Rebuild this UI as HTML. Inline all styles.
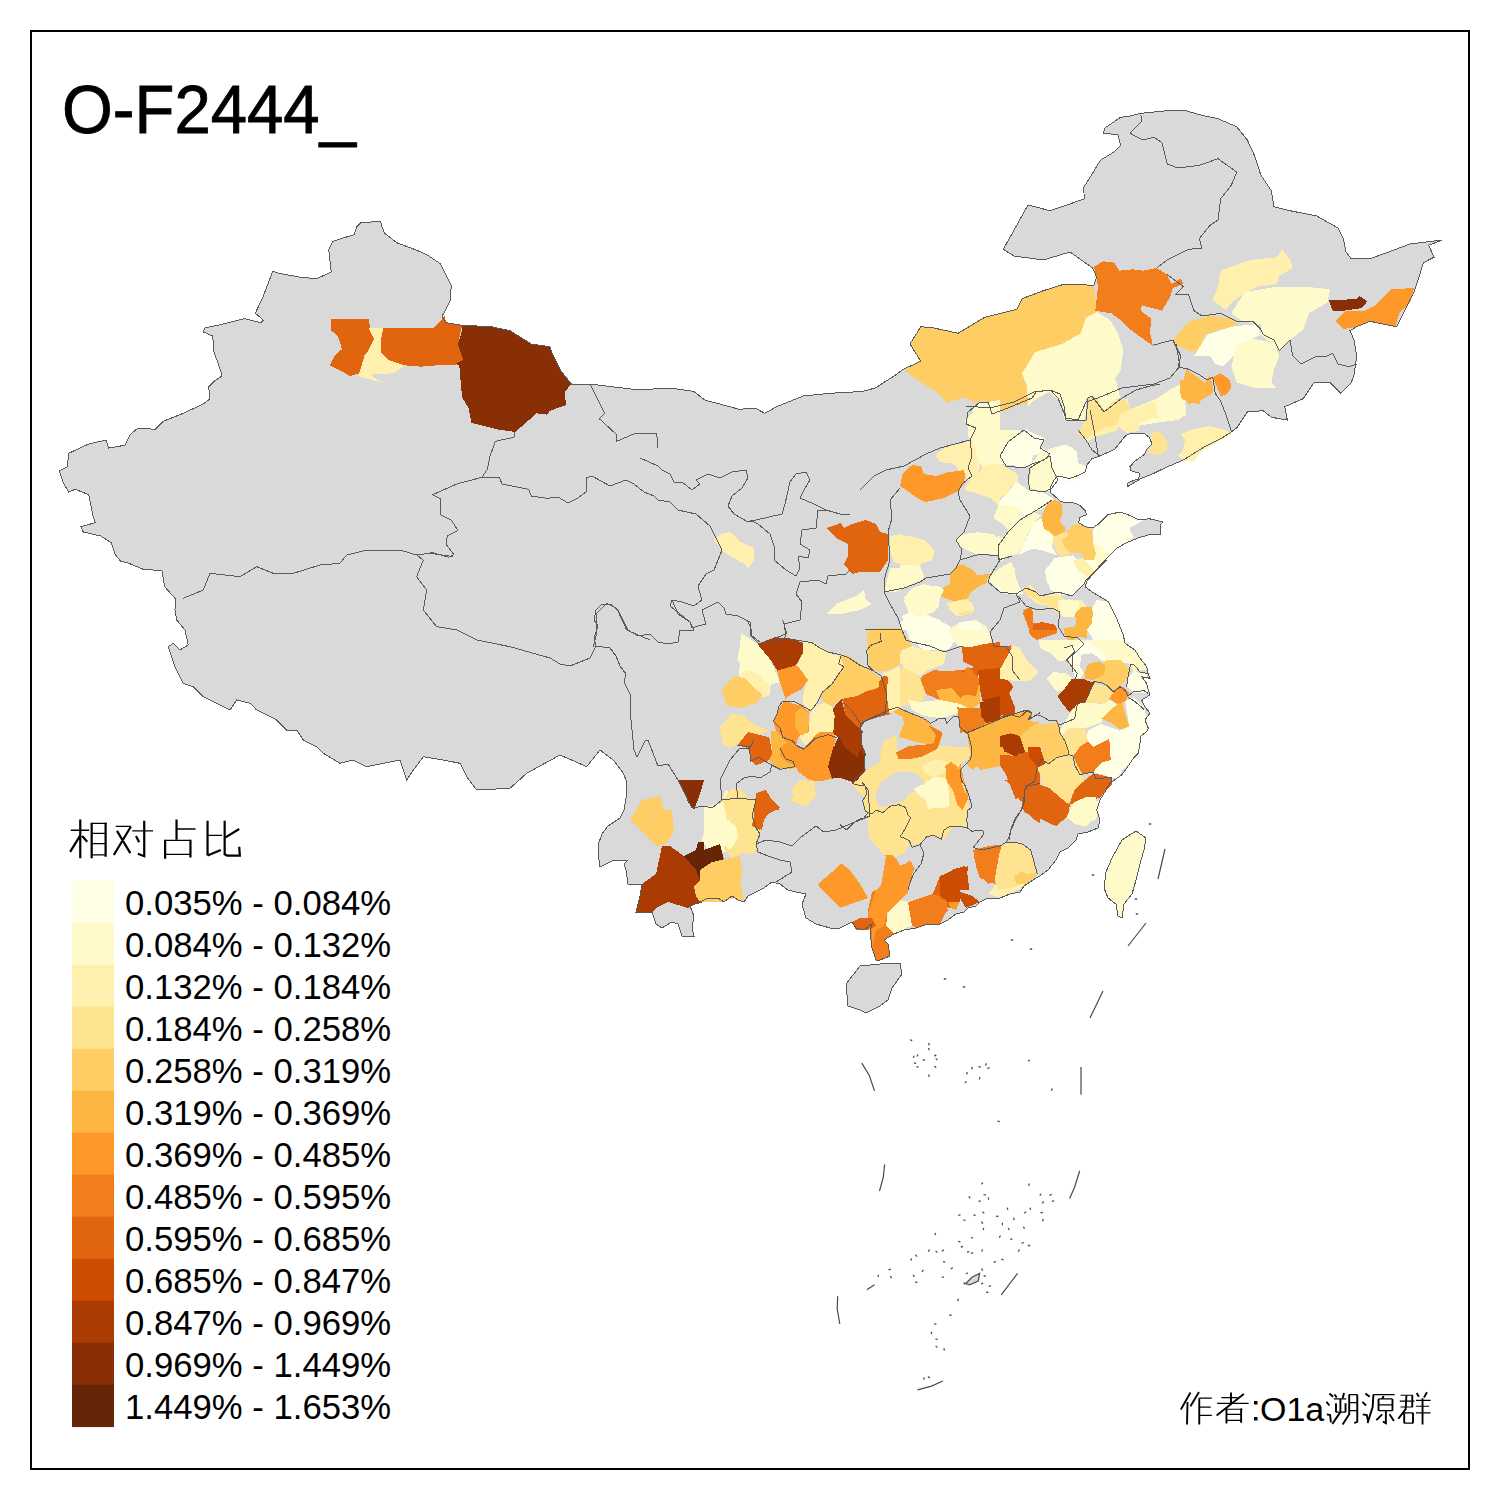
<!DOCTYPE html>
<html><head><meta charset="utf-8"><style>
html,body{margin:0;padding:0;background:#fff;width:1500px;height:1500px;overflow:hidden}
svg{position:absolute;left:0;top:0}
text{font-family:"Liberation Sans",sans-serif;fill:#000}
</style></head><body>
<svg width="1500" height="1500" viewBox="0 0 1500 1500">
<rect x="31" y="31" width="1438" height="1438" fill="none" stroke="#000" stroke-width="2"/>
<g shape-rendering="crispEdges"><polygon points="175.3,598.7 164.7,586.7 162.0,570.7 143.3,569.3 127.3,562.7 120.7,561.3 115.3,554.7 111.3,542.7 100.7,536.0 83.3,532.0 80.7,526.7 95.3,522.7 92.7,514.7 88.7,494.7 75.3,489.3 68.7,492.0 63.3,482.7 59.3,470.7 67.3,466.7 68.7,453.3 88.7,444.0 106.0,440.0 108.7,448.0 124.7,445.3 130.0,434.7 138.0,428.0 155.3,429.3 163.3,421.3 183.3,413.3 203.3,404.0 210.0,398.7 208.7,386.7 214.0,381.3 222.0,376.0 220.7,370.7 214.0,352.0 212.7,336.0 203.3,332.0 204.7,328.0 223.3,324.0 244.7,318.7 260.7,322.7 263.3,320.0 255.3,313.3 263.3,296.0 272.7,271.5 279.3,273.3 300.7,277.3 316.7,278.7 331.3,272.0 328.7,249.3 332.7,241.3 354.0,234.7 356.7,226.7 360.7,222.7 380.7,221.3 382.0,226.7 384.7,233.3 396.7,242.7 418.0,250.7 428.7,256.0 440.7,264.0 451.3,285.3 450.0,301.3 444.7,312.0 442.0,316.0 446.0,322.7 462.0,325.3 491.3,326.7 510.0,330.7 531.3,344.0 550.0,346.7 552.7,354.7 560.7,370.7 571.3,384.0 590.0,384.0 638.0,389.9 670.0,388.0 694.0,391.5 704.7,400.0 739.3,409.3 755.3,408.0 764.7,413.3 776.7,406.7 803.3,396.0 830.0,393.3 862.0,391.5 875.3,388.0 894.0,376.0 903.3,369.3 920.7,361.3 910.0,344.0 920.7,326.7 934.0,328.0 958.0,333.3 984.7,317.3 1016.7,309.3 1022.0,298.7 1043.3,290.7 1064.7,284.0 1094.0,285.3 1096.7,277.3 1092.7,268.0 1070.0,252.0 1043.3,260.0 1014.0,256.0 1003.3,249.3 1028.0,205.0 1050.0,210.7 1066.0,205.3 1084.7,198.7 1083.3,188.0 1090.0,177.3 1100.7,160.0 1114.0,152.0 1120.7,145.3 1118.0,134.7 1103.3,133.3 1104.7,128.0 1120.7,117.3 1130.0,116.0 1140.7,113.3 1167.3,110.7 1186.0,110.7 1199.3,114.7 1218.0,118.7 1236.7,126.7 1247.3,140.0 1255.3,157.3 1260.7,174.7 1271.3,190.7 1274.0,206.7 1290.0,210.7 1316.7,216.0 1338.0,228.0 1343.3,238.7 1346.0,252.0 1351.3,258.7 1370.0,258.7 1388.7,252.0 1410.0,244.0 1442.0,240.0 1428.7,245.3 1434.0,257.3 1423.3,262.7 1419.3,276.0 1414.0,292.0 1407.3,305.3 1396.7,326.7 1383.3,324.0 1370.0,321.3 1356.7,326.7 1350.0,330.7 1354.0,340.0 1356.7,356.0 1354.0,374.7 1351.3,382.7 1340.7,393.3 1330.0,382.7 1314.0,382.7 1303.3,398.7 1284.7,406.7 1287.3,420.0 1271.3,417.3 1263.3,410.7 1247.3,412.0 1236.7,428.0 1231.3,432.0 1220.7,438.7 1204.7,446.7 1183.3,460.0 1164.7,468.0 1154.0,473.3 1140.7,478.7 1127.3,486.7 1128.0,482.7 1138.7,478.7 1140.0,473.3 1130.7,470.7 1130.0,466.7 1134.7,461.3 1144.0,454.7 1146.7,449.3 1152.0,444.0 1149.3,437.3 1144.0,433.3 1129.3,434.0 1125.3,436.0 1120.0,442.7 1114.7,449.3 1100.0,456.0 1092.0,458.7 1086.7,465.3 1085.3,472.0 1080.0,474.7 1069.3,478.7 1064.0,477.3 1061.3,476.0 1056.0,477.3 1053.3,481.3 1050.7,486.7 1050.0,492.0 1056.0,497.3 1060.0,501.3 1066.7,502.7 1073.3,502.7 1080.0,505.3 1085.3,510.7 1086.7,514.7 1080.0,517.3 1078.7,522.7 1085.3,526.7 1092.0,528.0 1098.7,524.0 1108.0,514.7 1120.0,512.0 1128.0,514.7 1138.7,520.0 1149.3,518.7 1162.7,522.0 1160.0,525.3 1160.0,534.7 1149.3,534.7 1140.0,537.3 1126.7,542.7 1117.3,548.0 1109.3,556.0 1101.3,564.0 1093.3,573.3 1086.7,580.0 1106.7,560.0 1100.0,566.7 1093.3,573.3 1086.7,581.7 1085.0,586.7 1091.7,591.7 1108.3,601.7 1116.7,618.3 1123.3,635.0 1125.0,643.3 1135.0,650.0 1140.0,658.3 1146.7,666.7 1148.3,675.0 1150.0,678.3 1141.7,676.7 1146.7,683.3 1148.3,690.0 1150.0,695.0 1141.7,700.0 1145.0,706.7 1150.0,713.3 1145.0,720.0 1148.3,728.3 1146.7,731.7 1140.0,736.7 1140.0,743.3 1138.3,753.3 1133.3,758.3 1126.7,768.3 1121.7,775.0 1116.7,778.3 1110.0,783.3 1105.0,791.7 1100.0,800.0 1096.7,810.0 1100.0,820.0 1098.0,828.0 1088.0,832.0 1078.0,834.0 1076.0,840.0 1068.0,848.0 1060.0,852.0 1056.0,860.0 1048.0,870.0 1040.0,876.0 1036.0,878.0 1024.0,886.0 1020.0,892.0 1010.0,894.0 1000.0,898.0 988.0,898.0 980.0,902.0 976.0,906.0 968.0,908.0 964.0,912.0 956.0,914.0 948.0,920.0 940.0,924.0 928.0,924.0 916.0,928.0 904.0,930.0 894.0,934.0 884.0,940.0 888.0,944.0 890.0,956.0 880.0,960.0 876.0,960.0 872.0,948.0 870.0,932.0 872.0,924.0 864.0,930.0 856.0,928.0 852.0,922.0 840.0,928.0 830.0,928.0 816.0,924.0 806.0,918.0 802.0,904.0 806.0,894.0 796.0,892.0 788.0,890.0 780.0,884.0 772.0,882.0 764.0,888.0 756.0,892.0 748.0,896.0 744.0,902.0 738.0,900.0 732.0,896.0 724.0,902.0 718.0,898.0 708.0,898.0 700.0,902.0 690.0,906.0 694.0,916.0 692.0,928.0 694.0,936.0 682.0,936.0 678.0,924.0 672.0,922.0 662.0,928.0 656.0,924.0 652.0,912.0 636.0,912.0 640.0,896.0 642.0,884.0 628.0,884.0 626.0,870.0 624.0,864.0 628.0,860.0 614.0,860.0 600.0,867.0 599.0,860.0 598.0,845.0 602.0,834.0 608.0,826.0 620.0,818.0 624.0,810.0 626.0,798.0 626.0,780.0 623.3,773.3 613.3,760.0 600.0,750.0 586.7,766.7 560.0,755.0 526.7,773.3 510.0,788.3 476.7,790.0 466.7,776.7 460.0,763.3 443.3,760.0 423.3,756.7 413.3,770.0 406.7,780.0 400.0,760.0 383.3,763.3 366.7,766.7 353.3,760.0 340.0,763.3 323.3,753.3 316.7,746.7 303.3,740.0 296.7,730.0 286.7,730.0 276.7,720.0 256.7,710.0 250.0,703.3 236.7,700.0 230.0,710.0 203.3,696.7 193.3,686.7 183.3,683.3 175.0,666.7 168.3,646.7 173.3,643.3 180.0,650.0 188.3,645.0 185.0,630.0 176.7,620.0 175.0,610.0" fill="#D9D9D9" stroke="none"/>
<polygon points="846.0,984.0 860.0,966.0 880.0,964.0 900.0,963.0 902.0,974.0 892.0,988.0 888.0,1000.0 880.0,1006.0 866.0,1013.0 860.0,1010.0 848.0,1006.0" fill="#D9D9D9" stroke="none"/>
<polygon points="1104.0,888.0 1106.0,872.0 1112.0,858.0 1122.0,840.0 1128.0,836.0 1136.0,831.0 1146.0,838.0 1144.0,850.0 1140.0,864.0 1136.0,880.0 1132.0,894.0 1124.0,904.0 1122.0,918.0 1118.0,916.0 1116.0,904.0 1108.0,898.0" fill="#FFFACA" stroke="none"/>
<g stroke="none">
<polygon points="904.7,370.7 920.7,360.0 910.0,344.0 920.7,326.7 934.0,328.0 958.0,333.3 984.7,317.3 1016.7,309.3 1022.0,298.7 1043.3,290.7 1064.7,284.0 1094.0,285.3 1096.7,312.0 1086.0,317.3 1080.7,333.3 1062.0,344.0 1048.7,349.3 1035.3,352.0 1022.0,373.3 1027.3,386.7 1030.0,402.7 1016.7,405.3 1006.0,410.7 990.0,413.3 984.7,400.0 974.0,402.7 963.3,397.3 947.3,402.7 936.7,392.0 923.3,384.0" fill="#FECE65"/>
<polygon points="1022.0,373.3 1035.3,352.0 1062.0,344.0 1080.7,333.3 1086.0,317.3 1096.7,312.0 1110.0,320.0 1118.0,333.3 1123.3,349.3 1120.7,370.7 1112.7,381.3 1118.0,392.0 1104.7,400.0 1086.0,397.3 1080.7,408.0 1064.7,421.3 1062.0,402.7 1048.7,392.0 1030.0,402.7 1027.3,386.7" fill="#FFFACA"/>
<polygon points="331.3,318.7 368.7,318.7 370.0,328.0 374.0,338.7 370.0,349.3 364.7,354.7 359.3,373.3 350.0,376.0 340.7,370.7 330.0,365.3 335.3,354.7 342.0,349.3 338.0,336.0 331.3,330.7" fill="#E1640E"/>
<polygon points="368.7,328.0 383.3,328.0 380.7,341.3 380.7,352.0 388.7,360.0 404.7,365.3 394.0,373.3 370.0,374.7 382.0,382.7 358.0,376.0 364.7,357.3 374.0,338.7" fill="#FFF0AE"/>
<polygon points="383.3,328.0 434.0,328.0 444.7,316.0 446.0,322.7 462.0,325.3 458.0,344.0 463.3,360.0 455.3,365.3 438.0,365.3 420.7,366.7 404.7,365.3 388.7,360.0 380.7,352.0 380.7,341.3" fill="#E1640E"/>
<polygon points="462.0,325.3 491.3,326.7 510.0,330.7 531.3,344.0 550.0,346.7 552.7,354.7 560.7,370.7 571.3,384.0 564.7,392.0 566.0,405.3 550.0,410.7 547.3,414.7 536.7,413.3 515.3,432.0 496.7,429.3 471.3,422.7 468.7,408.0 462.0,397.3 459.3,365.3 455.3,364.0 463.3,360.0 458.0,344.0 462.0,330.7" fill="#882F05"/>
<polygon points="714.0,538.7 723.3,533.3 731.3,533.3 739.3,541.3 754.0,548.0 754.0,560.0 748.7,568.0 736.7,557.3 723.3,552.0" fill="#FFF0AE"/>
<polygon points="1094.0,266.7 1103.3,261.3 1114.0,262.7 1119.3,270.7 1132.7,269.3 1143.3,270.7 1156.7,268.0 1167.3,274.7 1171.3,284.0 1180.7,278.7 1183.3,284.0 1172.7,288.0 1170.0,297.3 1162.0,310.7 1142.0,305.3 1140.7,310.7 1151.3,318.7 1150.0,332.0 1152.7,345.3 1144.7,340.0 1130.0,329.3 1122.0,321.3 1111.3,313.3 1095.3,310.7 1098.0,286.7" fill="#F27E1B"/>
<polygon points="1220.7,270.7 1250.0,260.0 1276.7,257.3 1282.0,249.3 1290.0,260.0 1292.7,268.0 1279.3,276.0 1276.7,284.0 1258.0,286.7 1242.0,294.7 1231.3,302.7 1226.0,310.7 1212.7,300.0 1218.0,286.7" fill="#FFF0AE"/>
<polygon points="1231.3,313.3 1244.7,292.0 1276.7,286.7 1306.0,286.7 1330.0,289.3 1327.3,302.7 1308.7,313.3 1303.3,329.3 1290.0,340.0 1279.3,350.7 1271.3,342.7 1260.7,334.7 1260.7,324.0 1242.0,321.3" fill="#FFFACA"/>
<polygon points="1328.7,300.0 1340.7,300.0 1356.7,298.7 1359.3,296.0 1367.3,301.3 1362.0,308.0 1343.3,310.7 1332.7,310.7" fill="#882F05"/>
<polygon points="1335.3,321.3 1346.0,310.7 1364.7,310.7 1375.3,305.3 1391.3,289.3 1414.0,288.0 1410.0,302.7 1399.3,313.3 1395.3,326.7 1383.3,324.0 1370.0,321.3 1356.7,326.7 1343.3,329.3" fill="#FE9929"/>
<polygon points="1172.7,340.0 1188.7,321.3 1210.0,316.0 1231.3,318.7 1239.3,326.7 1220.7,329.3 1204.7,334.7 1199.3,350.7 1188.7,350.7 1178.0,345.3" fill="#FECE65"/>
<polygon points="1194.0,356.0 1207.3,334.7 1231.3,326.7 1258.0,324.0 1260.7,334.7 1250.0,340.0 1236.7,345.3 1234.0,356.0 1223.3,366.7 1215.3,364.0 1210.0,356.0" fill="#FFFFE5"/>
<polygon points="1234.0,356.0 1236.7,345.3 1252.7,338.7 1274.0,342.7 1279.3,356.0 1274.0,369.3 1271.3,382.7 1276.7,388.0 1255.3,388.0 1236.7,382.7 1231.3,366.7" fill="#FFFACA"/>
<polygon points="1180.7,393.3 1186.0,369.3 1194.0,374.7 1204.7,382.7 1210.0,374.7 1212.7,385.3 1212.7,393.3 1199.3,401.3 1188.7,404.0" fill="#FEB642"/>
<polygon points="1212.7,377.3 1220.7,373.3 1230.0,380.0 1231.3,388.0 1226.0,394.7 1220.7,396.0" fill="#FE9929"/>
<polygon points="1078.0,433.3 1087.3,417.3 1090.0,396.0 1100.7,406.7 1108.7,401.3 1127.3,398.7 1130.0,409.3 1122.0,420.0 1116.7,430.7 1098.0,436.0 1087.3,441.3" fill="#FFF0AE"/>
<polygon points="1122.0,420.0 1130.0,409.3 1156.7,398.7 1172.7,388.0 1183.3,382.7 1186.0,414.7 1178.0,420.0 1156.7,422.7 1140.7,425.3 1130.0,428.0" fill="#FFFACA"/>
<polygon points="1000.0,456.0 1006.7,452.0 1008.0,441.3 1017.3,436.0 1026.7,429.3 1034.7,436.0 1045.3,438.7 1040.0,445.3 1042.7,449.3 1037.3,454.7 1030.7,454.7 1032.0,462.7 1026.7,465.3 1021.3,468.0 1013.3,465.3 1001.3,464.0" fill="#FFFFE5"/>
<polygon points="1030.7,466.7 1033.3,460.0 1041.3,458.7 1045.3,450.7 1050.7,454.7 1048.0,460.0 1054.7,466.7 1057.3,473.3 1053.3,481.3 1049.3,486.7 1049.3,490.7 1040.0,490.7 1030.7,488.0 1028.0,482.7 1032.0,473.3" fill="#FFFACA"/>
<polygon points="1048.0,449.3 1053.3,448.0 1061.3,445.3 1070.7,446.7 1077.3,452.0 1076.0,462.7 1085.3,468.0 1080.0,474.7 1069.3,478.7 1064.0,477.3 1058.7,472.0 1053.3,465.3 1049.3,460.0" fill="#FFFFE5"/>
<polygon points="1026.7,380.0 1116.0,380.0 1120.0,397.3 1113.3,401.3 1104.0,410.7 1101.3,405.3 1096.0,397.3 1090.7,396.0 1085.3,398.7 1086.7,410.7 1084.0,421.3 1073.3,420.0 1065.3,421.3 1062.7,413.3 1064.0,404.0 1057.3,396.0 1052.0,388.0 1032.0,393.3 1032.0,402.7 1028.0,406.7" fill="#FFFACA"/>
<polygon points="1077.3,433.3 1085.3,424.0 1086.7,410.7 1090.7,396.0 1097.3,398.7 1104.0,410.7 1113.3,401.3 1125.3,398.7 1130.7,409.3 1120.0,414.7 1117.3,425.3 1104.0,428.0 1093.3,433.3 1086.7,438.7" fill="#FEE391"/>
<polygon points="1117.3,425.3 1120.0,414.7 1130.7,409.3 1140.0,406.7 1153.3,401.3 1157.3,406.7 1161.3,417.3 1150.7,418.7 1138.7,424.0 1138.7,430.7 1126.7,433.3" fill="#FFF0AE"/>
<polygon points="1180.0,380.0 1200.0,380.0 1200.0,404.0 1190.7,402.7 1181.3,398.7 1180.0,390.7" fill="#FEB642"/>
<polygon points="1156.0,402.7 1166.7,393.3 1176.0,386.7 1181.3,397.3 1186.7,406.7 1184.0,412.0 1173.3,414.7 1160.0,420.0 1157.3,412.0" fill="#FFFACA"/>
<polygon points="1150.7,434.7 1157.3,430.7 1164.0,436.0 1168.0,442.7 1166.7,450.7 1157.3,456.0 1148.0,452.0 1152.0,444.0" fill="#FEE391"/>
<polygon points="1178.0,456.0 1183.0,450.0 1185.0,440.0 1181.0,434.0 1194.0,429.0 1210.0,426.0 1225.0,430.0 1232.0,434.0 1200.0,452.0 1195.0,461.0 1185.0,461.0" fill="#FFF0AE"/>
<polygon points="1041.3,517.3 1046.7,505.3 1054.7,500.0 1061.3,502.7 1062.7,512.0 1060.0,517.3 1060.0,524.0 1065.3,526.7 1064.0,532.0 1054.7,529.3 1052.0,537.3 1048.0,534.7 1042.7,530.7" fill="#FEB642"/>
<polygon points="1061.3,540.0 1072.0,525.3 1080.0,524.0 1092.0,529.3 1093.3,544.0 1101.3,545.3 1096.0,553.3 1093.3,562.7 1085.3,561.3 1081.3,553.3 1070.7,553.3 1065.3,548.0" fill="#FECE65"/>
<polygon points="1050.7,537.3 1054.7,529.3 1064.0,532.0 1069.3,534.7 1061.3,540.0 1065.3,548.0 1070.7,553.3 1062.7,557.3 1057.3,553.3 1054.7,546.7" fill="#FEE391"/>
<polygon points="1093.3,529.3 1098.7,524.0 1108.0,514.7 1120.0,512.0 1128.0,514.7 1138.7,520.0 1144.0,520.0 1129.3,528.0 1133.3,537.3 1126.7,542.7 1117.3,548.0 1109.3,556.0 1101.3,545.3 1093.3,544.0" fill="#FFFFE5"/>
<polygon points="1093.3,544.0 1101.3,545.3 1109.3,556.0 1101.3,564.0 1093.3,573.3 1086.7,580.0 1074.7,580.0 1072.0,572.0 1080.0,564.0 1093.3,562.7 1096.0,553.3" fill="#FFFACA"/>
<polygon points="1045.0,570.0 1053.3,563.3 1066.7,560.0 1096.7,560.0 1093.3,573.3 1086.7,581.7 1076.7,590.0 1066.7,593.3 1058.3,593.3 1053.3,591.7 1046.7,581.7" fill="#FFFFE5"/>
<polygon points="988.3,578.3 1000.0,568.3 1011.7,563.3 1015.0,573.3 1018.3,585.0 1023.3,593.3 1016.7,595.0 1003.3,593.3 995.0,586.7" fill="#FFFFE5"/>
<polygon points="950.0,575.0 956.7,565.0 966.7,566.7 973.3,570.0 976.7,580.0 986.7,575.0 985.0,583.3 978.3,586.7 970.0,593.3 963.3,600.0 950.0,600.0" fill="#FEB642"/>
<polygon points="950.0,608.3 960.0,603.3 973.3,606.7 971.7,613.3 963.3,615.0 956.7,616.7 953.3,613.3" fill="#FFF0AE"/>
<polygon points="1021.7,588.3 1030.0,585.0 1036.7,591.7 1043.3,596.7 1056.7,593.3 1061.7,596.7 1066.7,603.3 1073.3,600.0 1081.7,600.0 1088.3,608.3 1076.7,613.3 1066.7,615.0 1058.3,611.7 1050.0,606.7 1036.7,603.3 1028.3,596.7" fill="#FFF0AE"/>
<polygon points="1023.3,610.0 1031.7,606.7 1033.3,615.0 1033.3,623.3 1041.7,623.3 1046.7,626.7 1056.7,628.3 1056.7,633.3 1046.7,636.7 1036.7,640.0 1030.0,635.0 1028.3,626.7 1025.0,618.3" fill="#F27E1B"/>
<polygon points="1063.3,628.3 1075.0,626.7 1080.0,610.0 1091.7,608.3 1091.7,623.3 1086.7,630.0 1086.7,638.3 1078.3,636.7 1070.0,641.7 1065.0,636.7" fill="#FEB642"/>
<polygon points="1091.7,608.3 1096.7,600.0 1108.3,601.7 1116.7,618.3 1123.3,635.0 1125.0,643.3 1135.0,650.0 1140.0,658.3 1146.7,666.7 1141.7,668.3 1130.0,663.3 1116.7,663.3 1108.3,661.7 1100.0,660.0 1095.0,646.7 1091.7,636.7 1086.7,630.0 1091.7,623.3" fill="#FFFFE5"/>
<polygon points="961.7,645.0 968.3,646.7 975.0,650.0 983.3,645.0 990.0,643.3 1000.0,646.7 1010.0,646.7 1010.0,663.3 1000.0,668.3 996.7,673.3 990.0,671.7 980.0,671.7 973.3,666.7 963.3,661.7" fill="#E1640E"/>
<polygon points="978.3,676.7 983.3,673.3 996.7,673.3 1010.0,683.3 1008.3,693.3 1015.0,713.3 1005.0,716.7 998.3,713.3 990.0,706.7 986.7,696.7" fill="#CC4C02"/>
<polygon points="981.7,705.0 988.3,701.7 996.7,706.7 1001.7,715.0 991.7,721.7 985.0,716.7" fill="#AA3C03"/>
<polygon points="958.3,716.7 966.7,710.0 980.0,710.0 988.3,720.0 993.3,723.3 973.3,728.3 960.0,733.3" fill="#F27E1B"/>
<polygon points="950.0,693.3 966.7,680.0 976.7,676.7 983.3,683.3 980.0,693.3 980.0,703.3 970.0,710.0 958.3,713.3 950.0,713.3" fill="#FEB642"/>
<polygon points="950.0,673.3 963.3,670.0 976.7,666.7 980.0,673.3 975.0,680.0 966.7,686.7 950.0,690.0" fill="#E1640E"/>
<polygon points="950.0,763.3 960.0,760.0 963.3,776.7 966.7,810.0 950.0,810.0" fill="#FE9929"/>
<polygon points="900.0,828.0 908.0,816.0 904.0,798.0 920.0,792.0 950.0,788.0 966.0,810.0 968.0,826.0 952.0,828.0 944.0,840.0 928.0,834.0 918.0,844.0 906.0,846.0 902.0,840.0" fill="#FEE391"/>
<polygon points="912.0,788.0 920.0,780.0 950.0,780.0 950.0,792.0 946.0,808.0 928.0,808.0 924.0,796.0" fill="#FFF0AE"/>
<polygon points="950.0,780.0 964.0,780.0 968.0,796.0 968.0,808.0 962.0,812.0 956.0,800.0 950.0,788.0" fill="#FE9929"/>
<polygon points="880.0,812.0 898.0,806.0 908.0,816.0 904.0,830.0 900.0,840.0 900.0,856.0 888.0,856.0 880.0,852.0" fill="#FEE391"/>
<polygon points="880.0,892.0 886.0,856.0 898.0,866.0 910.0,862.0 914.0,868.0 908.0,880.0 908.0,892.0 900.0,900.0 888.0,912.0 880.0,918.0" fill="#FE9929"/>
<polygon points="1004.0,780.0 1038.0,780.0 1020.0,796.0 1018.0,788.0" fill="#E1640E"/>
<polygon points="1024.0,788.0 1052.0,792.0 1070.0,804.0 1068.0,816.0 1056.0,826.0 1040.0,818.0 1024.0,812.0" fill="#E1640E"/>
<polygon points="1038.0,780.0 1084.0,780.0 1072.0,800.0 1052.0,792.0" fill="#FEE391"/>
<polygon points="1072.0,780.0 1112.0,780.0 1100.0,798.0 1072.0,802.0" fill="#E1640E"/>
<polygon points="1068.0,816.0 1084.0,804.0 1100.0,800.0 1096.0,820.0 1082.0,824.0 1070.0,820.0" fill="#FFFACA"/>
<polygon points="974.0,852.0 1000.0,846.0 1004.0,864.0 1000.0,878.0 988.0,884.0 980.0,876.0 976.0,864.0" fill="#F27E1B"/>
<polygon points="1000.0,846.0 1010.0,842.0 1028.0,848.0 1034.0,860.0 1038.0,874.0 1024.0,886.0 1010.0,888.0 1000.0,880.0 1004.0,864.0" fill="#FEE391"/>
<polygon points="1020.0,874.0 1028.0,860.0 1038.0,874.0 1024.0,886.0" fill="#FECE65"/>
<polygon points="988.0,894.0 1000.0,880.0 1020.0,872.0 1024.0,886.0 1010.0,894.0 1000.0,898.0" fill="#FFF0AE"/>
<polygon points="932.0,896.0 940.0,876.0 946.0,882.0 950.0,894.0 960.0,898.0 956.0,908.0 948.0,908.0 944.0,900.0" fill="#E1640E"/>
<polygon points="940.0,876.0 964.0,866.0 968.0,870.0 962.0,880.0 960.0,892.0 972.0,896.0 980.0,902.0 966.0,908.0 960.0,898.0 950.0,894.0 946.0,882.0" fill="#CC4C02"/>
<polygon points="948.0,900.0 956.0,896.0 960.0,900.0 956.0,910.0 950.0,908.0" fill="#FE9929"/>
<polygon points="906.0,912.0 916.0,904.0 924.0,900.0 936.0,898.0 948.0,900.0 946.0,912.0 940.0,924.0 928.0,924.0 916.0,928.0 910.0,924.0" fill="#F27E1B"/>
<polygon points="886.0,916.0 900.0,904.0 912.0,900.0 916.0,904.0 906.0,912.0 910.0,924.0 904.0,930.0 894.0,934.0 888.0,928.0" fill="#FFFACA"/>
<polygon points="880.0,918.0 888.0,916.0 888.0,928.0 894.0,934.0 884.0,940.0 888.0,944.0 890.0,956.0 880.0,960.0" fill="#F27E1B"/>
<polygon points="630.0,820.0 642.0,800.0 660.0,796.0 664.0,810.0 672.0,810.0 674.0,832.0 666.0,844.0 656.0,846.0 640.0,830.0" fill="#FECE65"/>
<polygon points="678.0,780.0 704.0,780.0 700.0,794.0 694.0,810.0 688.0,802.0 684.0,792.0" fill="#882F05"/>
<polygon points="704.0,812.0 720.0,804.0 726.0,790.0 732.0,796.0 728.0,820.0 732.0,840.0 736.0,848.0 724.0,852.0 710.0,852.0 702.0,840.0 706.0,824.0" fill="#FFFACA"/>
<polygon points="722.0,800.0 732.0,788.0 740.0,798.0 756.0,798.0 760.0,830.0 756.0,852.0 750.0,854.0 740.0,852.0 736.0,848.0 732.0,840.0 728.0,820.0" fill="#FEE391"/>
<polygon points="752.0,824.0 760.0,800.0 760.0,792.0 766.0,790.0 772.0,800.0 780.0,808.0 768.0,814.0 764.0,820.0 762.0,830.0" fill="#E1640E"/>
<polygon points="636.0,912.0 640.0,896.0 642.0,884.0 656.0,874.0 662.0,846.0 670.0,846.0 684.0,856.0 696.0,870.0 700.0,880.0 694.0,886.0 696.0,896.0 704.0,902.0 690.0,906.0 688.0,908.0 668.0,902.0 656.0,908.0 652.0,912.0" fill="#AA3C03"/>
<polygon points="684.0,856.0 696.0,850.0 698.0,842.0 704.0,842.0 704.0,850.0 720.0,844.0 724.0,860.0 720.0,860.0 708.0,864.0 704.0,876.0 700.0,880.0 696.0,870.0" fill="#662506"/>
<polygon points="694.0,886.0 700.0,880.0 704.0,876.0 708.0,864.0 720.0,860.0 732.0,858.0 740.0,856.0 742.0,872.0 740.0,884.0 744.0,900.0 738.0,900.0 732.0,896.0 724.0,902.0 718.0,898.0 708.0,898.0 700.0,902.0 696.0,896.0" fill="#FECE65"/>
<polygon points="818.0,886.0 828.0,876.0 840.0,864.0 852.0,880.0 868.0,898.0 856.0,902.0 840.0,908.0 830.0,898.0" fill="#FE9929"/>
<polygon points="868.0,910.0 872.0,892.0 880.0,888.0 880.0,960.0 876.0,960.0 872.0,948.0 870.0,932.0 872.0,924.0 868.0,920.0" fill="#F27E1B"/>
<polygon points="852.0,922.0 860.0,918.0 872.0,918.0 872.0,924.0 864.0,930.0 856.0,928.0" fill="#E1640E"/>
<polygon points="790.0,800.0 800.0,788.0 814.0,780.0 816.0,796.0 806.0,806.0 798.0,804.0" fill="#FEE391"/>
<polygon points="864.0,780.0 880.0,780.0 880.0,846.0 870.0,840.0 866.0,810.0 868.0,800.0 852.0,786.0" fill="#FEE391"/>
<polygon points="900.0,486.0 906.0,474.0 912.0,465.0 920.0,466.0 924.0,474.0 936.0,476.0 948.0,472.0 964.0,472.0 964.0,484.0 956.0,492.0 944.0,498.0 926.0,502.0 916.0,494.0 906.0,488.0" fill="#FE9929"/>
<polygon points="826.0,528.0 838.0,524.0 840.0,522.0 844.0,528.0 852.0,524.0 866.0,520.0 876.0,524.0 880.0,532.0 888.0,534.0 888.0,560.0 880.0,572.0 860.0,572.0 852.0,574.0 844.0,564.0 848.0,556.0 848.0,544.0 836.0,538.0" fill="#E1640E"/>
<polygon points="890.0,536.0 900.0,534.0 912.0,538.0 924.0,544.0 934.0,552.0 924.0,560.0 920.0,566.0 910.0,568.0 894.0,562.0 890.0,552.0" fill="#FFF0AE"/>
<polygon points="884.0,592.0 890.0,568.0 910.0,568.0 920.0,566.0 924.0,576.0 922.0,580.0 908.0,586.0 896.0,592.0" fill="#FFFACA"/>
<polygon points="826.0,614.0 836.0,604.0 856.0,596.0 864.0,590.0 866.0,600.0 872.0,604.0 860.0,610.0 840.0,614.0" fill="#FFFACA"/>
<polygon points="714.0,540.0 720.0,534.0 730.0,532.0 740.0,542.0 754.0,548.0 750.0,566.0 740.0,562.0 734.0,558.0 724.0,552.0" fill="#FFF0AE"/>
<polygon points="936.0,454.0 948.0,446.0 960.0,444.0 974.0,440.0 980.0,448.0 976.0,456.0 970.0,462.0 968.0,470.0 960.0,472.0 954.0,464.0 940.0,462.0" fill="#FFF0AE"/>
<polygon points="964.0,420.0 972.0,414.0 976.0,404.0 988.0,402.0 1000.0,400.0 1000.0,464.0 990.0,466.0 980.0,460.0 978.0,448.0 968.0,436.0 968.0,426.0" fill="#FFFACA"/>
<polygon points="966.0,484.0 978.0,474.0 990.0,464.0 1000.0,464.0 1000.0,508.0 992.0,500.0 984.0,492.0" fill="#FFF0AE"/>
<polygon points="956.0,540.0 964.0,534.0 980.0,532.0 992.0,538.0 1000.0,536.0 1000.0,552.0 990.0,552.0 970.0,550.0" fill="#FFFACA"/>
<polygon points="940.0,596.0 950.0,584.0 956.0,572.0 962.0,564.0 974.0,572.0 980.0,578.0 990.0,574.0 986.0,584.0 974.0,586.0 968.0,598.0 956.0,602.0" fill="#FEB642"/>
<polygon points="946.0,602.0 956.0,602.0 968.0,598.0 974.0,612.0 962.0,616.0 952.0,612.0" fill="#FEE391"/>
<polygon points="904.0,598.0 912.0,588.0 924.0,584.0 940.0,588.0 940.0,596.0 936.0,604.0 926.0,614.0 912.0,612.0" fill="#FFFACA"/>
<polygon points="902.0,616.0 910.0,612.0 926.0,614.0 938.0,620.0 950.0,626.0 956.0,640.0 948.0,650.0 924.0,650.0 910.0,640.0" fill="#FFFFE5"/>
<polygon points="948.0,630.0 960.0,622.0 976.0,620.0 986.0,626.0 990.0,634.0 992.0,644.0 980.0,648.0 958.0,646.0" fill="#FFFACA"/>
<polygon points="988.0,580.0 996.0,572.0 1000.0,568.0 1000.0,592.0 992.0,584.0" fill="#FFFFE5"/>
<polygon points="962.0,648.0 976.0,646.0 984.0,644.0 1000.0,642.0 1000.0,672.0 988.0,668.0 978.0,666.0 966.0,658.0" fill="#E1640E"/>
<polygon points="978.0,672.0 988.0,668.0 1000.0,672.0 1000.0,700.0 988.0,692.0 980.0,684.0" fill="#CC4C02"/>
<polygon points="866.0,630.0 876.0,628.0 900.0,628.0 904.0,634.0 912.0,646.0 892.0,658.0 884.0,664.0 880.0,670.0 870.0,664.0 868.0,648.0 876.0,640.0" fill="#FECE65"/>
<polygon points="902.0,650.0 912.0,646.0 924.0,650.0 946.0,652.0 944.0,664.0 928.0,670.0 920.0,676.0 908.0,672.0 898.0,660.0" fill="#FFF0AE"/>
<polygon points="922.0,676.0 934.0,670.0 948.0,672.0 962.0,676.0 968.0,666.0 980.0,680.0 976.0,696.0 960.0,694.0 944.0,692.0 930.0,690.0 924.0,684.0" fill="#F27E1B"/>
<polygon points="940.0,688.0 952.0,684.0 960.0,692.0 952.0,700.0 938.0,700.0" fill="#FECE65"/>
<polygon points="888.0,674.0 902.0,668.0 914.0,672.0 922.0,684.0 924.0,700.0 888.0,700.0" fill="#FEE391"/>
<polygon points="840.0,700.0 856.0,692.0 872.0,688.0 884.0,676.0 888.0,676.0 888.0,700.0" fill="#E1640E"/>
<polygon points="752.0,826.0 754.0,810.0 760.0,794.0 766.0,792.0 776.0,806.0 780.0,808.0 766.0,812.0 760.0,816.0 760.0,830.0" fill="#E1640E"/>
<polygon points="724.0,798.0 738.0,788.0 748.0,798.0 756.0,806.0 752.0,826.0 760.0,830.0 756.0,850.0 740.0,854.0 732.0,858.0 724.0,850.0" fill="#FEE391"/>
<polygon points="704.0,810.0 720.0,804.0 726.0,798.0 730.0,822.0 736.0,826.0 738.0,838.0 730.0,850.0 720.0,842.0 708.0,842.0 704.0,830.0" fill="#FFFACA"/>
<polygon points="700.0,870.0 712.0,862.0 732.0,858.0 740.0,862.0 742.0,896.0 734.0,898.0 720.0,902.0 700.0,902.0" fill="#FECE65"/>
<polygon points="966.0,650.0 1000.0,650.0 1000.0,674.0 980.0,670.0" fill="#E1640E"/>
<polygon points="920.0,678.0 940.0,672.0 960.0,670.0 968.0,678.0 972.0,690.0 960.0,698.0 940.0,700.0 926.0,694.0" fill="#F27E1B"/>
<polygon points="936.0,690.0 952.0,688.0 960.0,698.0 950.0,702.0 940.0,700.0" fill="#FEB642"/>
<polygon points="884.0,678.0 900.0,672.0 920.0,678.0 926.0,694.0 920.0,704.0 900.0,706.0 892.0,710.0 884.0,700.0" fill="#FEE391"/>
<polygon points="908.0,700.0 920.0,702.0 940.0,700.0 960.0,704.0 968.0,708.0 950.0,716.0 940.0,718.0 924.0,716.0 912.0,710.0" fill="#FFFACA"/>
<polygon points="978.0,670.0 1000.0,668.0 1000.0,718.0 984.0,708.0 980.0,690.0" fill="#CC4C02"/>
<polygon points="984.0,700.0 1000.0,696.0 1000.0,718.0 988.0,714.0" fill="#AA3C03"/>
<polygon points="960.0,712.0 968.0,708.0 984.0,708.0 992.0,720.0 984.0,726.0 970.0,734.0 962.0,728.0" fill="#F27E1B"/>
<polygon points="968.0,742.0 980.0,726.0 1000.0,718.0 1000.0,766.0 980.0,770.0 972.0,762.0 970.0,750.0" fill="#FEB642"/>
<polygon points="818.0,884.0 832.0,872.0 842.0,864.0 850.0,870.0 860.0,884.0 868.0,898.0 854.0,900.0 840.0,908.0 832.0,900.0 824.0,892.0" fill="#FE9929"/>
<polygon points="868.0,914.0 876.0,890.0 890.0,876.0 888.0,856.0 896.0,858.0 902.0,870.0 912.0,862.0 912.0,880.0 900.0,896.0 888.0,910.0 884.0,926.0 876.0,930.0 872.0,950.0 872.0,926.0" fill="#FE9929"/>
<polygon points="852.0,922.0 860.0,918.0 872.0,918.0 876.0,926.0 868.0,930.0 856.0,930.0" fill="#E1640E"/>
<polygon points="908.0,902.0 920.0,898.0 932.0,894.0 940.0,896.0 948.0,910.0 940.0,918.0 928.0,922.0 912.0,926.0" fill="#F27E1B"/>
<polygon points="888.0,912.0 900.0,900.0 908.0,902.0 912.0,926.0 896.0,930.0 886.0,926.0" fill="#FFFACA"/>
<polygon points="940.0,876.0 968.0,866.0 966.0,880.0 960.0,890.0 960.0,902.0 948.0,902.0 940.0,896.0" fill="#CC4C02"/>
<polygon points="974.0,850.0 1000.0,846.0 1000.0,886.0 980.0,878.0 976.0,866.0" fill="#F27E1B"/>
<polygon points="900.0,486.0 902.7,474.0 910.7,466.0 921.3,466.0 924.0,474.0 934.7,478.0 946.7,472.7 964.0,470.0 965.3,478.0 960.0,487.3 949.3,495.3 934.7,499.3 925.3,502.0 917.3,498.0 908.0,491.3" fill="#FE9929"/>
<polygon points="936.0,456.7 941.3,450.0 953.3,446.0 969.3,440.7 974.7,446.0 980.0,464.7 978.7,475.3 969.3,480.7 966.7,478.0 964.0,470.0 956.0,464.7 953.3,459.3 940.0,460.7" fill="#FFF0AE"/>
<polygon points="969.3,430.0 1020.0,430.0 1021.3,438.0 1009.3,442.0 1001.3,454.0 1001.3,464.7 993.3,463.3 982.7,466.0 978.7,462.0 974.7,446.0" fill="#FFFACA"/>
<polygon points="964.0,488.7 969.3,480.7 978.7,475.3 982.7,466.0 993.3,463.3 1001.3,464.7 1017.3,474.0 1018.7,483.3 1012.0,484.7 1006.7,494.0 998.7,498.0 993.3,499.3 974.7,492.7 966.7,491.3" fill="#FFF0AE"/>
<polygon points="1000.0,456.7 1006.7,442.0 1021.3,434.0 1026.7,430.0 1044.0,438.0 1040.0,446.0 1052.0,454.0 1038.7,452.7 1033.3,455.3 1030.7,464.7 1022.7,467.3 1013.3,464.7 1004.0,463.3" fill="#FFFFE5"/>
<polygon points="1029.3,483.3 1032.0,466.0 1038.7,452.7 1052.0,454.0 1052.0,463.3 1054.7,474.0 1052.0,482.0 1049.3,491.3 1041.3,490.0 1030.7,487.3" fill="#FFFACA"/>
<polygon points="1049.3,448.7 1066.7,444.7 1076.0,451.3 1078.7,463.3 1086.7,466.0 1084.0,472.7 1069.3,483.3 1054.7,474.0 1052.0,463.3" fill="#FFFFE5"/>
<polygon points="1006.7,494.0 1014.7,483.3 1018.7,483.3 1028.0,490.0 1041.3,491.3 1054.7,499.3 1046.7,507.3 1025.3,515.3 1017.3,520.7 1009.3,531.3 998.7,518.0 998.7,502.0" fill="#FFFFE5"/>
<polygon points="993.3,518.0 998.7,504.7 1006.7,504.7 1020.0,508.7 1022.7,515.3 1014.7,523.3 1009.3,531.3 1001.3,523.3" fill="#FFFACA"/>
<polygon points="956.0,539.3 964.0,534.0 980.0,532.7 993.3,534.0 1001.3,540.7 1000.0,555.3 988.0,554.0 980.0,555.3 966.7,550.0 961.3,547.3" fill="#FFFACA"/>
<polygon points="997.3,540.7 1009.3,531.3 1017.3,523.3 1022.7,516.7 1033.3,512.7 1041.3,515.3 1033.3,523.3 1028.0,534.0 1022.7,547.3 1017.3,554.0 1006.7,556.7 1001.3,562.0 998.7,555.3" fill="#FFFACA"/>
<polygon points="1017.3,555.3 1022.7,547.3 1028.0,535.3 1033.3,523.3 1041.3,518.0 1046.7,527.3 1053.3,536.7 1052.0,547.3 1057.3,555.3 1041.3,550.0 1033.3,548.7" fill="#FFFFE5"/>
<polygon points="1041.3,517.3 1046.7,504.7 1054.7,499.3 1061.3,504.7 1062.7,512.7 1060.0,520.7 1065.3,531.3 1054.7,536.7 1050.7,532.7 1044.0,528.7" fill="#FEB642"/>
<polygon points="1045.3,570.0 1054.7,558.0 1073.3,555.3 1078.7,562.0 1093.3,568.7 1086.7,576.7 1080.0,583.3 1073.3,595.3 1060.0,595.3 1050.7,590.0 1046.7,579.3" fill="#FFFFE5"/>
<polygon points="1073.3,560.7 1082.7,558.0 1092.0,567.3 1096.0,575.3 1086.7,576.7 1077.3,570.0" fill="#FFF0AE"/>
<polygon points="986.7,579.3 998.7,568.7 1010.7,562.0 1014.7,568.7 1016.0,579.3 1018.7,590.0 1006.7,594.0 998.7,586.0" fill="#FFFACA"/>
<polygon points="940.0,595.3 944.0,587.3 956.0,580.7 954.7,571.3 960.0,564.7 969.3,567.3 976.0,575.3 989.3,574.0 982.7,584.7 972.0,584.7 966.7,595.3 960.0,599.3 948.0,599.3" fill="#FEB642"/>
<polygon points="948.0,603.3 962.7,599.3 972.0,602.0 974.7,611.3 965.3,611.3 956.0,614.0 949.3,610.0" fill="#FFF0AE"/>
<polygon points="904.0,600.7 917.3,594.0 924.0,586.0 938.7,586.0 944.0,590.0 940.0,598.0 938.7,607.3 933.3,612.7 918.7,616.7 908.0,611.3" fill="#FFFACA"/>
<polygon points="900.0,622.0 910.7,616.7 926.7,615.3 938.7,619.3 948.0,630.0 900.0,630.0" fill="#FFFFE5"/>
<polygon points="958.7,624.7 969.3,620.7 980.0,623.3 982.7,630.0 958.7,630.0" fill="#FFFFE5"/>
<polygon points="900.0,535.3 913.3,536.7 925.3,540.7 934.7,550.0 932.0,560.7 921.3,563.3 910.7,564.7 900.0,563.3" fill="#FFF0AE"/>
<polygon points="900.0,564.7 914.7,564.7 921.3,571.3 924.0,578.0 914.7,582.0 900.0,583.3" fill="#FFFACA"/>
<polygon points="1022.7,587.3 1028.0,586.0 1034.7,591.3 1040.0,596.7 1057.3,595.3 1064.0,602.0 1060.0,614.0 1049.3,607.3 1041.3,603.3 1033.3,598.0 1025.3,594.0" fill="#FEE391"/>
<polygon points="1057.3,600.7 1069.3,599.3 1078.7,602.0 1080.0,611.3 1073.3,616.7 1062.7,616.7 1060.0,614.0" fill="#FFFACA"/>
<polygon points="1074.7,614.0 1081.3,607.3 1092.0,607.3 1093.3,616.7 1086.7,623.3 1077.3,626.0" fill="#FEB642"/>
<polygon points="1022.7,612.7 1032.0,607.3 1033.3,616.7 1032.0,623.3 1026.7,622.0" fill="#F27E1B"/>
<polygon points="1033.3,624.7 1041.3,622.0 1054.7,624.7 1057.3,630.0 1033.3,630.0" fill="#E1640E"/>
<polygon points="850.7,783.3 866.7,770.0 880.0,762.0 881.3,746.0 885.3,739.3 897.3,735.3 897.3,746.0 898.7,759.3 922.7,756.7 937.3,748.7 941.3,746.0 968.0,747.3 972.0,754.0 960.0,764.7 957.3,772.7 964.0,783.3 966.7,796.7 969.3,807.3 965.3,818.0 965.3,826.0 950.7,826.0 944.0,830.0 944.0,839.3 933.3,835.3 926.7,836.7 922.7,843.3 912.0,843.3 904.0,836.7 909.3,818.0 906.7,807.3 890.7,806.0 880.0,810.0 872.0,810.0 865.3,812.7 862.7,799.3 866.7,787.3 853.3,786.0" fill="#FEE391"/>
<polygon points="870.7,810.0 890.7,806.0 905.3,806.0 909.3,818.0 902.7,835.3 909.3,843.3 904.0,854.0 893.3,855.3 881.3,852.7 869.3,836.7 872.0,823.3" fill="#FEE391"/>
<polygon points="861.3,726.0 866.7,719.3 880.0,716.7 898.7,718.0 906.7,723.3 904.0,732.7 897.3,735.3 884.0,740.7 880.0,752.7 880.0,763.3 869.3,764.7 864.0,768.7 861.3,750.0" fill="#D9D9D9"/>
<polygon points="889.3,710.0 897.3,707.3 909.3,712.7 925.3,719.3 930.7,724.7 942.7,734.0 938.7,746.0 922.7,743.3 912.0,740.7 898.7,736.7 904.0,723.3 902.7,716.7" fill="#FEB642"/>
<polygon points="896.0,752.7 909.3,746.0 925.3,744.7 933.3,743.3 936.0,735.3 928.0,724.7 942.7,732.7 937.3,748.7 921.3,756.7 909.3,759.3 898.7,759.3" fill="#F27E1B"/>
<polygon points="874.7,796.7 880.0,783.3 890.7,775.3 900.0,771.3 914.7,772.7 924.0,780.7 920.0,791.3 909.3,792.7 904.0,800.7 890.7,804.7 880.0,807.3" fill="#D9D9D9"/>
<polygon points="922.7,764.7 936.0,759.3 946.7,762.0 945.3,772.7 933.3,776.7 924.0,772.7" fill="#FFF0AE"/>
<polygon points="913.3,788.7 925.3,783.3 933.3,776.7 945.3,778.0 949.3,791.3 949.3,807.3 928.0,808.7 925.3,799.3 920.0,796.7" fill="#FFFACA"/>
<polygon points="945.3,766.0 950.7,762.0 957.3,766.0 960.0,775.3 962.7,786.0 968.0,799.3 962.7,810.0 957.3,804.7 953.3,791.3 946.7,780.7" fill="#FE9929"/>
<polygon points="966.7,734.0 986.7,726.0 1005.3,718.0 1026.7,711.3 1032.0,715.3 1029.3,722.0 1038.7,722.0 1040.0,743.3 1026.7,747.3 1013.3,756.7 1005.3,764.7 993.3,762.0 981.3,759.3 973.3,770.0 966.7,764.7 970.7,754.0 969.3,743.3" fill="#FEB642"/>
<polygon points="1000.0,736.7 1013.3,734.0 1018.7,743.3 1024.0,751.3 1016.0,756.7 1004.0,751.3" fill="#AA3C03"/>
<polygon points="1004.0,770.0 1013.3,758.0 1024.0,752.7 1032.0,747.3 1040.0,746.0 1040.0,787.3 1026.7,791.3 1024.0,803.3 1018.7,799.3 1017.3,786.0 1009.3,783.3" fill="#E1640E"/>
<polygon points="1022.7,807.3 1024.0,791.3 1029.3,786.0 1040.0,783.3 1040.0,823.3 1032.0,818.0" fill="#E1640E"/>
<polygon points="957.3,707.3 980.0,710.0 986.7,722.0 980.0,727.3 966.7,734.0 960.0,727.3 958.7,716.7" fill="#F27E1B"/>
<polygon points="980.0,702.0 990.7,703.3 1000.0,714.0 1000.0,719.3 986.7,723.3 981.3,716.7" fill="#AA3C03"/>
<polygon points="840.0,698.0 854.7,695.3 872.0,692.7 885.3,691.3 888.0,703.3 890.7,714.0 880.0,716.7 866.7,719.3 860.0,723.3 852.0,711.3 844.0,703.3" fill="#E1640E"/>
<polygon points="840.0,715.3 852.0,711.3 860.0,723.3 861.3,732.7 861.3,743.3 865.3,754.0 853.3,756.7 840.0,743.3" fill="#AA3C03"/>
<polygon points="840.0,746.0 853.3,756.7 865.3,754.0 864.0,764.7 865.3,770.0 852.0,782.0 840.0,778.0" fill="#882F05"/>
<polygon points="973.3,850.0 989.3,846.0 1000.0,844.7 1004.0,856.7 1000.0,879.3 986.7,882.0 978.7,874.0 974.7,860.7" fill="#F27E1B"/>
<polygon points="1000.0,850.0 1008.0,842.0 1021.3,843.3 1030.7,850.0 1036.0,871.3 1032.0,879.3 1024.0,883.3 1013.3,887.3 997.3,890.0 994.7,879.3" fill="#FEE391"/>
<polygon points="1013.3,876.7 1021.3,871.3 1026.7,874.0 1036.0,872.7 1032.0,879.3 1024.0,883.3 1017.3,884.7" fill="#FECE65"/>
<polygon points="941.3,876.7 954.7,868.7 966.7,867.3 968.0,879.3 969.3,890.0 941.3,890.0" fill="#CC4C02"/>
<polygon points="885.3,855.3 893.3,855.3 898.7,870.0 909.3,860.7 914.7,868.7 910.7,876.7 905.3,890.0 886.7,890.0 889.3,876.7" fill="#FE9929"/>
<polygon points="840.0,863.3 842.7,864.7 852.0,874.0 861.3,890.0 840.0,890.0" fill="#FE9929"/>
<polygon points="866.7,630.7 880.0,628.0 900.0,628.0 900.0,665.3 886.7,670.7 870.7,670.7 866.7,646.7" fill="#FECE65"/>
<polygon points="881.3,673.3 889.3,670.7 900.0,665.3 900.0,708.0 889.3,713.3 886.7,694.7 888.0,677.3" fill="#FFF0AE"/>
<polygon points="741.3,633.3 757.3,644.0 770.7,660.0 780.0,682.7 770.7,684.0 769.3,696.0 761.3,697.3 748.0,686.7 738.7,674.7 740.0,664.0 737.3,658.7 740.0,644.0" fill="#FFFACA"/>
<polygon points="738.7,674.7 748.0,669.3 760.0,676.0 769.3,684.0 769.3,696.0 761.3,697.3 750.7,686.7" fill="#FFF0AE"/>
<polygon points="757.3,644.0 774.7,637.3 790.7,638.7 802.7,642.7 802.7,653.3 796.0,665.3 777.3,670.7 770.7,660.0" fill="#AA3C03"/>
<polygon points="777.3,670.7 796.0,665.3 806.7,672.0 808.0,680.0 801.3,689.3 790.7,694.7 785.3,698.7 780.0,682.7" fill="#FE9929"/>
<polygon points="797.3,665.3 802.7,653.3 802.7,642.7 812.0,641.3 822.7,648.0 833.3,654.7 841.3,654.7 844.0,665.3 838.7,674.7 832.0,684.0 820.0,694.7 816.0,705.3 809.3,710.7 802.7,702.7 804.0,690.7 808.0,680.0" fill="#FFF0AE"/>
<polygon points="838.7,656.0 846.7,654.7 860.0,664.0 870.7,670.7 880.0,677.3 878.7,686.7 868.0,694.7 849.3,698.7 840.0,698.7 832.0,706.7 824.0,702.7 820.0,694.7 832.0,684.0 838.7,674.7 844.0,665.3" fill="#FECE65"/>
<polygon points="842.7,698.7 857.3,696.0 868.0,690.7 880.0,688.0 882.7,676.0 888.0,677.3 886.7,694.7 885.3,710.7 889.3,713.3 865.3,721.3 858.7,730.7 856.0,725.3 845.3,714.7" fill="#E1640E"/>
<polygon points="833.3,708.0 841.3,698.7 845.3,714.7 856.0,725.3 862.7,730.7 861.3,748.0 857.3,757.3 845.3,748.0 838.7,736.0 830.7,734.7" fill="#AA3C03"/>
<polygon points="828.0,757.3 834.7,745.3 838.7,736.0 845.3,748.0 857.3,757.3 861.3,748.0 865.3,770.7 857.3,780.0 852.0,784.0 850.7,777.3 830.7,778.7 828.0,770.7" fill="#882F05"/>
<polygon points="808.0,732.0 810.7,713.3 816.0,705.3 824.0,702.7 832.0,706.7 834.7,716.0 833.3,732.0 820.0,732.0 816.0,734.7 808.0,746.7 802.7,742.7 798.7,734.7" fill="#FFF0AE"/>
<polygon points="780.0,748.0 786.7,742.7 796.0,745.3 804.0,748.0 816.0,734.7 820.0,732.0 833.3,732.0 836.0,740.0 832.0,752.0 828.0,766.7 832.0,778.7 820.0,781.3 809.3,780.0 798.7,772.0 794.7,765.3 785.3,761.3 780.0,754.7" fill="#FE9929"/>
<polygon points="773.3,721.3 780.0,706.7 785.3,700.0 793.3,704.0 801.3,705.3 809.3,712.0 809.3,732.0 798.7,736.0 796.0,745.3 786.7,742.7 782.7,737.3 776.0,730.7" fill="#FE9929"/>
<polygon points="794.7,713.3 801.3,708.0 809.3,713.3 808.0,732.0 800.0,734.7 794.7,725.3" fill="#FEB642"/>
<polygon points="770.7,730.7 776.0,730.7 782.7,737.3 786.7,742.7 780.0,748.0 780.0,754.7 785.3,761.3 794.7,765.3 796.0,768.0 786.7,769.3 774.7,766.7 769.3,760.0 772.0,753.3" fill="#FEB642"/>
<polygon points="737.3,745.3 746.7,732.0 753.3,730.7 758.7,734.7 769.3,737.3 772.0,753.3 769.3,760.0 756.0,765.3 752.0,761.3 748.0,748.0" fill="#E1640E"/>
<polygon points="720.0,726.7 732.0,713.3 744.0,716.0 753.3,724.0 769.3,730.7 758.7,734.7 748.0,732.0 737.3,745.3 729.3,748.0 722.7,744.0" fill="#FEE391"/>
<polygon points="721.3,689.3 734.7,676.0 745.3,678.7 756.0,689.3 762.7,694.7 757.3,702.7 740.0,708.0 726.7,705.3" fill="#FECE65"/>
<polygon points="790.7,790.7 800.0,780.0 814.7,781.3 813.3,798.7 805.3,806.7 797.3,798.7" fill="#FEE391"/>
<polygon points="722.7,798.7 733.3,788.0 744.0,797.3 758.7,802.7 757.3,820.0 726.7,820.0" fill="#FEE391"/>
<polygon points="704.0,806.7 720.0,804.0 726.7,813.3 725.3,820.0 704.0,820.0" fill="#FFFACA"/>
<polygon points="756.0,793.3 764.0,790.7 766.7,798.7 780.0,809.3 769.3,812.0 758.7,820.0 753.3,820.0" fill="#E1640E"/>
<polygon points="1000.0,648.0 1010.7,645.3 1010.7,665.3 1000.0,669.3" fill="#E1640E"/>
<polygon points="1000.0,669.3 1013.3,645.3 1020.0,648.0 1026.7,660.0 1038.7,672.0 1029.3,681.3 1016.0,681.3 1000.0,678.7" fill="#FFF0AE"/>
<polygon points="1000.0,678.7 1008.0,680.0 1013.3,686.7 1009.3,693.3 1014.7,706.7 1014.7,714.7 1000.0,714.7" fill="#CC4C02"/>
<polygon points="1038.7,640.0 1084.0,640.0 1080.0,648.0 1069.3,652.0 1066.7,660.0 1058.7,661.3 1050.7,653.3 1040.0,648.0" fill="#FFFACA"/>
<polygon points="1065.3,660.0 1072.0,648.0 1080.0,645.3 1085.3,640.0 1093.3,640.0 1102.7,650.7 1100.0,658.7 1092.0,653.3 1081.3,654.7 1080.0,666.7 1084.0,673.3 1080.0,678.7 1074.7,677.3 1072.0,666.7" fill="#FFFFE5"/>
<polygon points="1085.3,640.0 1122.7,640.0 1133.3,648.0 1141.3,654.7 1146.7,669.3 1133.3,672.0 1130.7,664.0 1117.3,660.0 1105.3,658.7 1101.3,650.7" fill="#FFFACA"/>
<polygon points="1090.7,674.7 1106.7,660.0 1120.0,660.0 1130.7,670.7 1128.0,677.3 1122.7,684.0 1113.3,690.7 1101.3,682.7 1094.7,682.7" fill="#FECE65"/>
<polygon points="1084.0,673.3 1088.0,664.0 1098.7,661.3 1105.3,665.3 1104.0,674.7 1093.3,680.0 1085.3,678.7" fill="#FEB642"/>
<polygon points="1128.0,677.3 1133.3,672.0 1146.7,673.3 1148.0,693.3 1133.3,693.3 1126.7,686.7" fill="#FFFFE5"/>
<polygon points="1046.7,678.7 1053.3,672.0 1065.3,673.3 1073.3,678.7 1074.7,682.7 1064.0,690.7 1056.0,690.7 1050.7,684.0" fill="#FFFACA"/>
<polygon points="1057.3,696.0 1064.0,689.3 1072.0,678.7 1082.7,678.7 1093.3,682.7 1090.7,690.7 1085.3,702.7 1077.3,705.3 1069.3,712.0 1062.7,704.0" fill="#AA3C03"/>
<polygon points="1085.3,702.7 1093.3,684.0 1109.3,686.7 1113.3,693.3 1108.0,700.0 1104.0,704.0 1096.0,702.7" fill="#FEE391"/>
<polygon points="1060.0,730.7 1069.3,714.7 1077.3,704.0 1085.3,702.7 1104.0,704.0 1109.3,700.0 1116.0,704.0 1122.7,702.7 1120.0,712.0 1104.0,717.3 1101.3,722.7 1085.3,728.0 1088.0,741.3 1080.0,746.7 1072.0,752.0 1064.0,741.3" fill="#FFFACA"/>
<polygon points="1125.3,701.3 1133.3,697.3 1144.0,706.7 1146.7,720.0 1146.7,733.3 1140.0,741.3 1138.7,757.3 1124.0,768.0 1117.3,778.7 1110.7,777.3 1093.3,772.0 1101.3,762.7 1110.7,760.0 1109.3,741.3 1093.3,746.7 1085.3,741.3 1088.0,730.7 1101.3,724.0 1120.0,730.7 1129.3,726.7" fill="#FFFFE5"/>
<polygon points="1109.3,698.7 1116.0,688.0 1122.7,686.7 1129.3,693.3 1125.3,701.3 1117.3,704.0" fill="#FE9929"/>
<polygon points="1101.3,718.7 1117.3,704.0 1122.7,702.7 1125.3,714.7 1129.3,726.7 1120.0,729.3 1110.7,722.7" fill="#FEB642"/>
<polygon points="1061.3,736.0 1069.3,728.0 1085.3,728.0 1088.0,741.3 1080.0,749.3 1073.3,754.7 1069.3,756.0" fill="#FEE391"/>
<polygon points="1073.3,756.0 1080.0,746.7 1088.0,741.3 1093.3,746.7 1109.3,738.7 1110.7,760.0 1101.3,762.7 1093.3,772.0 1082.7,774.7 1077.3,765.3" fill="#F27E1B"/>
<polygon points="1040.0,730.7 1045.3,724.0 1060.0,722.7 1060.0,733.3 1066.7,746.7 1068.0,754.7 1056.0,757.3 1048.0,765.3 1042.7,760.0 1041.3,746.7" fill="#FECE65"/>
<polygon points="1000.0,716.0 1013.3,714.7 1029.3,709.3 1032.0,714.7 1026.7,720.0 1036.0,722.7 1034.7,733.3 1024.0,733.3 1021.3,722.7 1000.0,725.3" fill="#FEB642"/>
<polygon points="1000.0,736.0 1010.7,733.3 1020.0,736.0 1025.3,752.0 1016.0,756.0 1006.7,748.0 1000.0,746.7" fill="#AA3C03"/>
<polygon points="1020.0,736.0 1036.0,722.7 1045.3,725.3 1042.7,736.0 1041.3,746.7 1036.0,750.7 1025.3,752.0" fill="#FECE65"/>
<polygon points="1000.0,754.7 1016.0,756.0 1026.7,752.0 1040.0,748.0 1045.3,764.0 1037.3,784.0 1025.3,786.7 1016.0,800.0 1005.3,773.3 1000.0,765.3" fill="#E1640E"/>
<polygon points="1028.0,746.7 1040.0,746.7 1045.3,764.0 1037.3,766.7 1029.3,757.3" fill="#CC4C02"/>
<polygon points="1037.3,768.0 1045.3,764.0 1056.0,757.3 1069.3,756.0 1077.3,765.3 1082.7,774.7 1085.3,784.0 1074.7,794.7 1069.3,804.0 1056.0,797.3 1044.0,784.0" fill="#FEE391"/>
<polygon points="1069.3,804.0 1074.7,789.3 1085.3,780.0 1093.3,773.3 1110.7,777.3 1112.0,784.0 1104.0,793.3 1096.0,797.3 1085.3,800.0 1077.3,805.3" fill="#E1640E"/>
<polygon points="1021.3,808.0 1025.3,789.3 1037.3,784.0 1049.3,788.0 1060.0,797.3 1069.3,805.3 1064.0,817.3 1053.3,825.3 1040.0,818.7 1026.7,813.3" fill="#E1640E"/>
<polygon points="1066.7,817.3 1073.3,802.7 1085.3,797.3 1096.0,797.3 1096.0,808.0 1093.3,820.0 1085.3,826.7 1074.7,824.0" fill="#FFFACA"/>
</g>
<g fill="none" stroke="#5A5A5A" stroke-width="1" stroke-linejoin="round">
<polyline points="514.0,432.0 514.0,437.3 495.3,441.3 490.0,456.0 487.3,469.3 482.0,477.3 456.7,484.0 432.7,494.7 440.7,498.7 440.7,514.7 451.3,520.0 458.0,530.7 447.3,536.0 446.0,544.0 454.0,554.7 448.7,557.3 430.0,552.0"/>
<polyline points="482.0,477.3 499.3,477.3 502.0,484.0 515.3,486.7 528.7,489.3 531.3,496.0 550.0,498.7"/>
<polyline points="590.0,384.0 604.7,413.3 599.3,418.7 616.7,434.7 616.7,441.3 635.3,433.3 656.7,433.3 658.0,448.0"/>
<polyline points="183.3,598.3 203.3,590.0 210.0,573.3 240.0,576.7 256.7,566.7 273.3,573.3 293.3,573.3 320.0,565.0 340.0,563.3 346.7,555.0 366.7,550.0 400.0,550.0 416.7,555.0 430.0,553.3 453.3,556.7"/>
<polyline points="416.7,555.0 423.3,560.0 416.7,576.7 426.7,590.0 423.3,610.0 436.7,626.7 456.7,630.0 476.7,640.0 510.0,646.7 550.0,658.0"/>
<polyline points="593.3,646.7 596.7,633.3 596.7,613.3 606.7,603.3 616.7,608.3 626.7,630.0 650.0,640.0"/>
<polyline points="550.0,498.0 558.0,497.0 568.0,503.0 578.0,498.0 586.0,492.0 586.0,478.0 592.0,476.0 610.0,486.0 626.0,480.0 634.0,484.0 644.0,492.0 654.0,496.0 658.0,500.0 670.0,502.0 678.0,510.0 696.0,514.0 710.0,526.0 714.0,534.0 722.0,550.0 714.0,570.0 706.0,574.0 698.0,586.0 702.0,600.0 694.0,606.0 682.0,602.0 672.0,600.0 670.0,606.0 680.0,614.0 690.0,622.0 692.0,628.0 698.0,626.0 706.0,624.0 702.0,610.0 718.0,602.0 724.0,608.0 726.0,614.0 738.0,616.0 750.0,622.0 752.0,636.0 760.0,642.0"/>
<polyline points="672.0,600.0 678.0,614.0 690.0,622.0 694.0,630.0 680.0,630.0 678.0,642.0 668.0,644.0 658.0,642.0 650.0,634.0 638.0,636.0 628.0,630.0 624.0,622.0 618.0,610.0 610.0,604.0 602.0,604.0 596.0,610.0 594.0,620.0 598.0,626.0 594.0,638.0 596.0,646.0 590.0,658.0 580.0,662.0 570.0,666.0 560.0,664.0 550.0,658.0"/>
<polyline points="596.0,646.0 610.0,648.0 616.0,656.0 620.0,666.0 626.0,674.0 624.0,682.0 630.0,694.0 630.0,710.0 632.0,730.0 634.0,750.0"/>
<polyline points="640.0,458.0 658.0,466.0 662.0,470.0 670.0,474.0 674.0,482.0 682.0,482.0 692.0,490.0 700.0,484.0 696.0,480.0 708.0,474.0 720.0,478.0 732.0,472.0 746.0,470.0 748.0,478.0 742.0,488.0 732.0,496.0 728.0,506.0 734.0,514.0 748.0,522.0 756.0,520.0 782.0,514.0 785.0,504.0 790.0,482.0 796.0,474.0 806.0,472.0 810.0,480.0 804.0,490.0 800.0,498.0 814.0,504.0 826.0,510.0 840.0,514.0 850.0,514.0"/>
<polyline points="750.0,520.0 758.0,524.0 770.0,534.0 774.0,546.0 774.0,560.0 786.0,570.0 796.0,576.0 800.0,568.0 798.0,556.0 808.0,558.0 810.0,550.0 800.0,544.0 802.0,530.0 816.0,528.0 818.0,510.0 826.0,510.0"/>
<polyline points="800.0,582.0 818.0,580.0 826.0,584.0 828.0,576.0 846.0,574.0 850.0,570.0"/>
<polyline points="800.0,582.0 796.0,594.0 802.0,602.0 800.0,620.0 784.0,624.0 786.0,636.0 780.0,642.0"/>
<polyline points="844.0,703.3 852.0,711.3 860.0,723.3 861.3,732.7 861.3,743.3 865.3,754.0 864.0,764.7 865.3,770.0 857.3,776.7 852.0,783.3 856.0,784.7 865.3,786.0 866.7,794.0 862.7,800.7 865.3,811.3 872.0,814.0"/>
<polyline points="840.0,824.7 846.7,830.0 853.3,823.3 858.7,819.3 864.0,818.0 868.0,812.7 872.0,814.0 876.0,810.0 882.7,812.7 890.7,806.0 898.7,804.7 905.3,807.3 908.0,815.3 910.7,818.0 905.3,828.7 900.0,836.7 904.0,838.0 909.3,840.7 912.0,847.3 920.0,844.7 926.7,836.7 933.3,835.3 941.3,839.3 944.0,830.0 950.7,826.0 966.7,827.3 972.0,831.3 982.7,830.0 984.0,834.0 973.3,847.3 981.3,850.0 1000.0,846.0 1006.7,842.0 1021.3,843.3 1030.7,850.0 1037.3,874.0"/>
<polyline points="920.0,844.7 924.0,852.7 921.3,863.3 913.3,874.0 909.3,884.7 908.0,890.0"/>
<polyline points="968.0,827.3 966.7,820.7 968.0,810.0 972.0,807.3 969.3,796.7 965.3,786.0 961.3,780.7 960.0,770.0 970.7,759.3 972.0,751.3 970.7,743.3 968.0,734.0 960.0,727.3 958.7,716.7 953.3,716.7 946.7,723.3 945.3,718.0 940.0,718.0 930.7,723.3 922.7,718.0 909.3,712.7 897.3,707.3 889.3,710.0 873.3,716.7 861.3,723.3"/>
<polyline points="966.7,732.7 986.7,724.7 1005.3,716.7 1026.7,710.0 1032.0,712.7 1029.3,719.3 1033.3,716.7 1040.0,712.7"/>
<polyline points="1006.7,842.0 1009.3,836.7 1010.7,830.0 1014.7,819.3 1021.3,810.0 1024.0,803.3 1024.0,791.3 1029.3,786.0 1040.0,783.3"/>
<polyline points="746.7,620.0 750.7,626.7 750.7,636.0 758.7,644.0 774.7,640.0 788.0,638.7 804.0,641.3 812.0,642.7 820.0,648.0 828.0,652.0 840.0,654.7 848.0,657.3 860.0,665.3 873.3,670.7 881.3,676.0 886.7,694.7 885.3,713.3 864.0,721.3 858.7,730.7"/>
<polyline points="782.7,620.0 786.7,633.3 774.7,638.7"/>
<polyline points="841.3,654.7 838.7,664.0 844.0,666.7 837.3,676.0 832.0,684.0 822.7,692.0 817.3,702.7 810.7,710.7 801.3,705.3 793.3,701.3 782.7,701.3 778.7,706.7 777.3,713.3 773.3,721.3 780.0,728.0 782.7,737.3 793.3,741.3 796.0,745.3 804.0,749.3"/>
<polyline points="648.0,740.0 658.0,766.0 668.0,764.0 678.0,780.0 692.0,808.0 704.0,806.0 712.0,808.0 722.0,800.0 720.0,780.0 730.0,760.0 740.0,748.0 750.0,748.0 754.0,740.0"/>
<polyline points="722.0,800.0 738.0,798.0 736.0,784.0 744.0,778.0 752.0,776.0 760.0,778.0 770.0,772.0 772.0,764.0"/>
<polyline points="738.0,798.0 756.0,800.0 752.0,816.0 756.0,828.0 760.0,834.0 756.0,844.0 758.0,852.0 768.0,856.0 780.0,860.0 790.0,862.0 792.0,872.0 776.0,882.0"/>
<polyline points="756.0,844.0 766.0,840.0 780.0,842.0 792.0,846.0 800.0,838.0 816.0,826.0 824.0,832.0 836.0,830.0 850.0,824.0 860.0,820.0 870.0,816.0 868.0,790.0 862.0,782.0"/>
<polyline points="860.0,490.0 874.0,476.0 886.0,470.0 904.0,466.0 926.0,454.0 940.0,448.0 970.0,440.0 976.0,428.0 966.0,424.0 968.0,412.0 980.0,402.0 988.0,402.0 992.0,414.0 1008.0,408.0 1032.0,398.0 1036.0,392.0 1050.0,390.0 1060.0,394.0 1064.0,406.0 1066.0,420.0 1086.0,420.0 1088.0,398.0 1092.0,396.0 1104.0,412.0 1122.0,398.0 1136.0,390.0 1150.0,386.0 1160.0,384.0"/>
<polyline points="970.0,440.0 972.0,456.0 968.0,468.0 972.0,476.0 962.0,484.0 958.0,492.0 960.0,500.0 970.0,516.0 964.0,532.0 956.0,540.0 962.0,550.0 960.0,560.0 956.0,568.0 950.0,574.0 926.0,578.0 920.0,582.0 904.0,588.0 884.0,592.0"/>
<polyline points="900.0,488.0 890.0,500.0 892.0,518.0 888.0,532.0 890.0,560.0 884.0,580.0 884.0,592.0 890.0,604.0 898.0,618.0 902.0,630.0 906.0,640.0 912.0,642.0 930.0,646.0 944.0,652.0 962.0,646.0"/>
<polyline points="1000.0,456.0 1008.0,442.0 1024.0,430.0 1034.0,438.0 1044.0,440.0 1040.0,448.0 1050.0,454.0 1044.0,460.0 1032.0,464.0 1024.0,468.0 1006.0,466.0 1000.0,456.0"/>
<polyline points="1030.0,468.0 1036.0,464.0 1050.0,456.0 1052.0,468.0 1058.0,480.0 1052.0,488.0 1044.0,492.0 1030.0,490.0 1028.0,480.0 1030.0,468.0"/>
<polyline points="1078.0,430.0 1086.0,440.0 1092.0,450.0 1100.0,456.0"/>
<polyline points="1052.0,500.0 1040.0,508.0 1020.0,520.0 1008.0,532.0 998.0,546.0 998.0,560.0 1012.0,556.0"/>
<polyline points="960.0,560.0 980.0,554.0 998.0,556.0 1000.0,560.0 990.0,576.0 988.0,582.0 1000.0,592.0 1016.0,594.0 1026.0,588.0 1036.0,592.0 1040.0,596.0 1058.0,592.0 1072.0,596.0 1084.0,584.0 1086.0,580.0"/>
<polyline points="1016.0,594.0 1020.0,602.0 1004.0,608.0 1000.0,620.0 990.0,632.0 994.0,646.0 1006.0,646.0 1012.0,656.0 1012.0,670.0 1020.0,680.0"/>
<polyline points="1018.0,596.0 1026.0,606.0 1038.0,610.0 1052.0,608.0 1060.0,612.0 1058.0,626.0 1064.0,636.0 1078.0,638.0 1084.0,644.0 1072.0,656.0 1072.0,672.0"/>
<polyline points="1140.7,114.7 1142.0,121.3 1130.0,133.3 1143.3,140.0 1154.0,137.3 1162.0,142.7 1167.3,164.0 1178.0,168.0 1199.3,165.3 1218.0,158.7 1236.7,172.0 1231.3,185.3 1220.7,198.7 1218.0,220.0 1210.0,225.3 1199.3,238.7 1202.0,248.0 1188.7,249.3 1167.3,260.0 1156.7,268.0"/>
<polyline points="1167.3,274.7 1183.3,286.7 1175.3,294.7 1188.7,294.7 1194.0,310.7 1202.0,316.0 1220.7,313.3 1236.7,321.3 1252.7,321.3 1260.7,329.3 1263.3,334.7 1274.0,340.0 1279.3,350.7 1290.0,340.0 1292.7,356.0 1300.7,364.0 1316.7,356.0 1327.3,356.0 1332.7,353.3 1338.0,364.0 1348.7,366.7 1356.7,364.0"/>
<polyline points="1152.7,345.3 1172.7,340.0 1180.7,356.0 1178.0,366.7 1188.7,369.3 1199.3,374.7 1207.3,380.0 1212.7,377.3 1215.3,393.3 1220.7,401.3 1226.0,414.7 1231.3,430.7"/>
<polyline points="804.0,749.3 814.7,738.7 828.0,734.7 836.0,737.3 841.3,736.0"/>
<polyline points="772.0,765.3 780.0,769.3 794.7,766.7 793.3,761.3 785.3,758.7 780.0,748.0"/>
<polyline points="772.0,765.3 758.7,757.3 750.7,761.3 749.3,746.7 737.3,745.3"/>
<polyline points="634.0,750.0 637.0,757.0 645.0,741.0 648.0,740.0"/>
<polyline points="1064.0,648.0 1072.0,645.3 1074.7,652.0 1066.7,660.0 1072.0,666.7 1077.3,673.3 1074.7,680.0"/>
<polyline points="1093.3,681.3 1101.3,682.7 1106.7,685.3 1113.3,692.0 1120.0,686.7 1125.3,690.7 1128.0,696.0 1133.3,692.0 1144.0,690.7 1148.0,693.3"/>
<polyline points="1126.7,686.7 1128.0,677.3 1130.7,664.0 1134.7,665.3 1140.0,672.0 1146.7,673.3"/>
<polyline points="1128.0,697.3 1134.7,701.3 1144.0,709.3"/>
<polyline points="1000.0,717.3 1010.7,714.7 1020.0,717.3 1026.7,710.7 1032.0,713.3 1028.0,720.0 1037.3,714.7 1044.0,717.3 1048.0,720.0 1056.0,720.0 1058.7,725.3 1074.7,718.7 1077.3,704.0 1086.7,698.7 1093.3,684.0 1094.7,681.3"/>
<polyline points="1058.7,725.3 1060.0,733.3 1065.3,741.3 1069.3,754.7 1057.3,757.3 1048.0,764.0 1041.3,758.7 1037.3,768.0 1034.7,781.3 1025.3,786.7 1022.7,808.0 1016.0,818.7 1010.7,830.7 1009.3,840.0"/>
<polyline points="1069.3,754.7 1073.3,756.0 1074.7,765.3 1080.0,774.7 1093.3,772.0 1096.0,778.7 1112.0,777.3 1110.7,784.0"/>
<polyline points="966.0,406.0 990.0,408.0 1014.0,402.0 1034.0,392.0 1050.0,390.0 1058.0,398.0 1066.0,418.0 1078.0,420.0 1086.0,402.0 1098.0,398.0 1122.0,388.0 1154.0,384.0 1170.0,378.0 1180.0,366.0 1176.0,344.0"/>
<polyline points="1090.0,410.0 1094.0,430.0 1098.0,454.0"/>
<polyline points="865.3,630.0 873.3,629.3 889.3,630.0 901.3,629.3"/>
<polyline points="880.0,633.3 881.3,641.3 870.7,645.3 866.7,650.7 868.0,665.3 873.3,670.7 881.3,676.0"/>
</g>
<polygon points="175.3,598.7 164.7,586.7 162.0,570.7 143.3,569.3 127.3,562.7 120.7,561.3 115.3,554.7 111.3,542.7 100.7,536.0 83.3,532.0 80.7,526.7 95.3,522.7 92.7,514.7 88.7,494.7 75.3,489.3 68.7,492.0 63.3,482.7 59.3,470.7 67.3,466.7 68.7,453.3 88.7,444.0 106.0,440.0 108.7,448.0 124.7,445.3 130.0,434.7 138.0,428.0 155.3,429.3 163.3,421.3 183.3,413.3 203.3,404.0 210.0,398.7 208.7,386.7 214.0,381.3 222.0,376.0 220.7,370.7 214.0,352.0 212.7,336.0 203.3,332.0 204.7,328.0 223.3,324.0 244.7,318.7 260.7,322.7 263.3,320.0 255.3,313.3 263.3,296.0 272.7,271.5 279.3,273.3 300.7,277.3 316.7,278.7 331.3,272.0 328.7,249.3 332.7,241.3 354.0,234.7 356.7,226.7 360.7,222.7 380.7,221.3 382.0,226.7 384.7,233.3 396.7,242.7 418.0,250.7 428.7,256.0 440.7,264.0 451.3,285.3 450.0,301.3 444.7,312.0 442.0,316.0 446.0,322.7 462.0,325.3 491.3,326.7 510.0,330.7 531.3,344.0 550.0,346.7 552.7,354.7 560.7,370.7 571.3,384.0 590.0,384.0 638.0,389.9 670.0,388.0 694.0,391.5 704.7,400.0 739.3,409.3 755.3,408.0 764.7,413.3 776.7,406.7 803.3,396.0 830.0,393.3 862.0,391.5 875.3,388.0 894.0,376.0 903.3,369.3 920.7,361.3 910.0,344.0 920.7,326.7 934.0,328.0 958.0,333.3 984.7,317.3 1016.7,309.3 1022.0,298.7 1043.3,290.7 1064.7,284.0 1094.0,285.3 1096.7,277.3 1092.7,268.0 1070.0,252.0 1043.3,260.0 1014.0,256.0 1003.3,249.3 1028.0,205.0 1050.0,210.7 1066.0,205.3 1084.7,198.7 1083.3,188.0 1090.0,177.3 1100.7,160.0 1114.0,152.0 1120.7,145.3 1118.0,134.7 1103.3,133.3 1104.7,128.0 1120.7,117.3 1130.0,116.0 1140.7,113.3 1167.3,110.7 1186.0,110.7 1199.3,114.7 1218.0,118.7 1236.7,126.7 1247.3,140.0 1255.3,157.3 1260.7,174.7 1271.3,190.7 1274.0,206.7 1290.0,210.7 1316.7,216.0 1338.0,228.0 1343.3,238.7 1346.0,252.0 1351.3,258.7 1370.0,258.7 1388.7,252.0 1410.0,244.0 1442.0,240.0 1428.7,245.3 1434.0,257.3 1423.3,262.7 1419.3,276.0 1414.0,292.0 1407.3,305.3 1396.7,326.7 1383.3,324.0 1370.0,321.3 1356.7,326.7 1350.0,330.7 1354.0,340.0 1356.7,356.0 1354.0,374.7 1351.3,382.7 1340.7,393.3 1330.0,382.7 1314.0,382.7 1303.3,398.7 1284.7,406.7 1287.3,420.0 1271.3,417.3 1263.3,410.7 1247.3,412.0 1236.7,428.0 1231.3,432.0 1220.7,438.7 1204.7,446.7 1183.3,460.0 1164.7,468.0 1154.0,473.3 1140.7,478.7 1127.3,486.7 1128.0,482.7 1138.7,478.7 1140.0,473.3 1130.7,470.7 1130.0,466.7 1134.7,461.3 1144.0,454.7 1146.7,449.3 1152.0,444.0 1149.3,437.3 1144.0,433.3 1129.3,434.0 1125.3,436.0 1120.0,442.7 1114.7,449.3 1100.0,456.0 1092.0,458.7 1086.7,465.3 1085.3,472.0 1080.0,474.7 1069.3,478.7 1064.0,477.3 1061.3,476.0 1056.0,477.3 1053.3,481.3 1050.7,486.7 1050.0,492.0 1056.0,497.3 1060.0,501.3 1066.7,502.7 1073.3,502.7 1080.0,505.3 1085.3,510.7 1086.7,514.7 1080.0,517.3 1078.7,522.7 1085.3,526.7 1092.0,528.0 1098.7,524.0 1108.0,514.7 1120.0,512.0 1128.0,514.7 1138.7,520.0 1149.3,518.7 1162.7,522.0 1160.0,525.3 1160.0,534.7 1149.3,534.7 1140.0,537.3 1126.7,542.7 1117.3,548.0 1109.3,556.0 1101.3,564.0 1093.3,573.3 1086.7,580.0 1106.7,560.0 1100.0,566.7 1093.3,573.3 1086.7,581.7 1085.0,586.7 1091.7,591.7 1108.3,601.7 1116.7,618.3 1123.3,635.0 1125.0,643.3 1135.0,650.0 1140.0,658.3 1146.7,666.7 1148.3,675.0 1150.0,678.3 1141.7,676.7 1146.7,683.3 1148.3,690.0 1150.0,695.0 1141.7,700.0 1145.0,706.7 1150.0,713.3 1145.0,720.0 1148.3,728.3 1146.7,731.7 1140.0,736.7 1140.0,743.3 1138.3,753.3 1133.3,758.3 1126.7,768.3 1121.7,775.0 1116.7,778.3 1110.0,783.3 1105.0,791.7 1100.0,800.0 1096.7,810.0 1100.0,820.0 1098.0,828.0 1088.0,832.0 1078.0,834.0 1076.0,840.0 1068.0,848.0 1060.0,852.0 1056.0,860.0 1048.0,870.0 1040.0,876.0 1036.0,878.0 1024.0,886.0 1020.0,892.0 1010.0,894.0 1000.0,898.0 988.0,898.0 980.0,902.0 976.0,906.0 968.0,908.0 964.0,912.0 956.0,914.0 948.0,920.0 940.0,924.0 928.0,924.0 916.0,928.0 904.0,930.0 894.0,934.0 884.0,940.0 888.0,944.0 890.0,956.0 880.0,960.0 876.0,960.0 872.0,948.0 870.0,932.0 872.0,924.0 864.0,930.0 856.0,928.0 852.0,922.0 840.0,928.0 830.0,928.0 816.0,924.0 806.0,918.0 802.0,904.0 806.0,894.0 796.0,892.0 788.0,890.0 780.0,884.0 772.0,882.0 764.0,888.0 756.0,892.0 748.0,896.0 744.0,902.0 738.0,900.0 732.0,896.0 724.0,902.0 718.0,898.0 708.0,898.0 700.0,902.0 690.0,906.0 694.0,916.0 692.0,928.0 694.0,936.0 682.0,936.0 678.0,924.0 672.0,922.0 662.0,928.0 656.0,924.0 652.0,912.0 636.0,912.0 640.0,896.0 642.0,884.0 628.0,884.0 626.0,870.0 624.0,864.0 628.0,860.0 614.0,860.0 600.0,867.0 599.0,860.0 598.0,845.0 602.0,834.0 608.0,826.0 620.0,818.0 624.0,810.0 626.0,798.0 626.0,780.0 623.3,773.3 613.3,760.0 600.0,750.0 586.7,766.7 560.0,755.0 526.7,773.3 510.0,788.3 476.7,790.0 466.7,776.7 460.0,763.3 443.3,760.0 423.3,756.7 413.3,770.0 406.7,780.0 400.0,760.0 383.3,763.3 366.7,766.7 353.3,760.0 340.0,763.3 323.3,753.3 316.7,746.7 303.3,740.0 296.7,730.0 286.7,730.0 276.7,720.0 256.7,710.0 250.0,703.3 236.7,700.0 230.0,710.0 203.3,696.7 193.3,686.7 183.3,683.3 175.0,666.7 168.3,646.7 173.3,643.3 180.0,650.0 188.3,645.0 185.0,630.0 176.7,620.0 175.0,610.0" fill="none" stroke="#5A5A5A" stroke-width="1"/>
<polygon points="846.0,984.0 860.0,966.0 880.0,964.0 900.0,963.0 902.0,974.0 892.0,988.0 888.0,1000.0 880.0,1006.0 866.0,1013.0 860.0,1010.0 848.0,1006.0" fill="none" stroke="#5A5A5A" stroke-width="1"/>
<polygon points="1104.0,888.0 1106.0,872.0 1112.0,858.0 1122.0,840.0 1128.0,836.0 1136.0,831.0 1146.0,838.0 1144.0,850.0 1140.0,864.0 1136.0,880.0 1132.0,894.0 1124.0,904.0 1122.0,918.0 1118.0,916.0 1116.0,904.0 1108.0,898.0" fill="none" stroke="#5A5A5A" stroke-width="1"/></g><path d="M861.8,1063.1 L869.4,1075.7 L874.5,1090.9 M1081.0,1066.9 L1081.0,1094.7 M884.6,1164.4 L883.3,1177.1 L879.5,1191.0 M1079.7,1170.7 L1074.6,1187.2 L1069.6,1198.6 M837.7,1296.2 L837.2,1308.8 L839.8,1324.0 M1017.6,1273.4 L1001.2,1294.9 M917.5,1389.9 L931.5,1386.1 L942.9,1381.0 M866.9,1289.8 L874.5,1284.8 M1165.0,849.0 L1158.0,879.0 M1146.0,923.0 L1128.0,946.0 M1103.0,991.0 L1090.0,1018.0" fill="none" stroke="#4A4A4A" stroke-width="1.2"/>
<path d="M910.3,1039.5 L912.1,1041.1 M929.1,1042.9 L928.8,1045.3 M928.5,1048.0 L929.4,1050.2 M914.1,1055.6 L913.4,1057.9 M918.0,1054.4 L917.1,1056.6 M913.8,1062.8 L916.2,1063.3 M922.7,1060.0 L925.1,1060.1 M936.3,1054.9 L934.2,1056.1 M935.7,1058.4 L937.4,1060.1 M934.4,1066.1 L936.2,1067.7 M918.7,1066.9 L916.3,1066.9 M928.8,1074.5 L929.1,1076.9 M966.7,1081.5 L964.6,1082.7 M966.9,1072.0 L967.0,1074.4 M972.5,1067.1 L971.5,1069.2 M978.5,1066.3 L980.7,1067.4 M986.4,1063.2 L985.5,1065.4 M989.6,1067.7 L987.4,1068.6 M979.7,1077.1 L979.5,1079.5 M1029.8,1059.7 L1028.2,1061.4 M1052.4,1088.6 L1051.2,1090.7 M997.4,1121.1 L999.8,1121.6 M983.0,1182.6 L981.3,1184.2 M1029.4,1183.5 L1028.7,1185.8 M968.8,1196.4 L970.2,1198.3 M983.5,1194.7 L985.9,1194.9 M980.7,1200.7 L978.5,1201.6 M988.4,1197.4 L988.6,1199.8 M1041.2,1193.9 L1039.7,1195.7 M1051.7,1194.4 L1049.4,1195.3 M1043.7,1201.5 L1042.2,1203.4 M1054.3,1200.9 L1051.9,1201.4 M1007.1,1207.6 L1007.9,1209.9 M1026.2,1211.8 L1024.2,1213.3 M1030.1,1207.6 L1030.5,1209.9 M1042.9,1212.3 L1040.5,1212.8 M960.5,1214.6 L958.2,1215.5 M963.3,1219.8 L965.6,1220.5 M973.5,1214.6 L975.6,1215.6 M982.5,1211.8 L984.3,1213.3 M998.5,1216.2 L996.2,1216.5 M1013.6,1217.7 L1014.1,1220.1 M1043.4,1219.0 L1042.5,1221.3 M981.4,1221.7 L982.9,1223.7 M1002.4,1222.8 L1002.4,1225.2 M1008.3,1227.9 L1009.2,1230.1 M1023.4,1226.7 L1024.5,1228.8 M983.7,1227.9 L983.1,1230.2 M935.6,1232.9 L935.0,1235.2 M973.2,1237.5 L970.9,1238.2 M1000.5,1235.6 L999.2,1237.6 M1012.5,1238.9 L1010.1,1239.4 M1023.8,1242.4 L1021.6,1243.5 M1030.2,1245.5 L1027.8,1245.5 M1019.5,1249.5 L1018.3,1251.6 M958.3,1241.1 L960.4,1242.3 M963.0,1246.2 L960.8,1247.3 M969.4,1251.7 L967.0,1252.0 M973.2,1252.7 L970.9,1253.4 M982.4,1249.4 L981.9,1251.7 M929.7,1249.6 L928.2,1251.5 M935.6,1251.1 L937.5,1252.6 M943.9,1249.9 L941.8,1251.2 M911.5,1258.3 L910.9,1260.6 M915.5,1254.7 L917.0,1256.6 M943.0,1261.7 L945.3,1262.2 M952.8,1267.8 L950.7,1268.8 M996.0,1261.9 L993.6,1262.0 M1001.3,1259.1 L1003.6,1259.8 M967.9,1272.7 L966.0,1274.1 M981.8,1268.4 L982.5,1270.7 M983.6,1275.3 L985.8,1276.4 M963.7,1282.5 L965.1,1284.4 M983.0,1282.7 L981.3,1284.3 M990.9,1285.6 L988.6,1286.5 M986.0,1292.2 L988.4,1292.5 M958.5,1298.8 L957.7,1301.1 M949.3,1315.0 L951.7,1315.3 M923.4,1269.9 L921.9,1271.8 M913.1,1274.9 L914.4,1276.9 M917.4,1281.8 L915.2,1282.7 M944.1,1277.1 L941.7,1277.2 M878.3,1274.7 L878.3,1277.1 M890.9,1269.5 L888.5,1269.6 M890.3,1276.2 L891.6,1278.1 M934.1,1323.7 L936.4,1324.3 M931.8,1331.8 L931.1,1334.0 M935.4,1339.1 L937.7,1339.3 M935.6,1346.1 L937.5,1347.5 M943.8,1348.2 L944.5,1350.5 M924.3,1377.4 L923.5,1379.6 M927.9,1376.7 L930.0,1377.8 M1010.8,940.0 L1013.2,940.0 M1029.8,949.0 L1032.2,949.0 M1091.8,875.0 L1094.2,875.0 M943.8,979.0 L946.2,979.0 M962.8,987.0 L965.2,987.0 M1134.8,899.0 L1137.2,899.0 M1135.8,914.0 L1138.2,914.0 M1148.8,824.0 L1151.2,824.0" fill="none" stroke="#505050" stroke-width="1.3"/>
<polygon points="965.7,1283.5 972.0,1277.2 979.6,1273.4 978.3,1281.0 969.5,1284.8" fill="#D9D9D9" stroke="#505050" stroke-width="1.3"/>
<rect x="72" y="880.80" width="42" height="42.39" fill="#FFFFE5"/><rect x="72" y="922.79" width="42" height="42.39" fill="#FFFACA"/><rect x="72" y="964.78" width="42" height="42.39" fill="#FFF0AE"/><rect x="72" y="1006.77" width="42" height="42.39" fill="#FEE391"/><rect x="72" y="1048.76" width="42" height="42.39" fill="#FECE65"/><rect x="72" y="1090.75" width="42" height="42.39" fill="#FEB642"/><rect x="72" y="1132.74" width="42" height="42.39" fill="#FE9929"/><rect x="72" y="1174.73" width="42" height="42.39" fill="#F27E1B"/><rect x="72" y="1216.72" width="42" height="42.39" fill="#E1640E"/><rect x="72" y="1258.71" width="42" height="42.39" fill="#CC4C02"/><rect x="72" y="1300.70" width="42" height="42.39" fill="#AA3C03"/><rect x="72" y="1342.69" width="42" height="42.39" fill="#882F05"/><rect x="72" y="1384.68" width="42" height="42.39" fill="#662506"/>
<text transform="translate(125,915.40) scale(1,1.02)" font-size="34.7">0.035% - 0.084%</text><text transform="translate(125,957.39) scale(1,1.02)" font-size="34.7">0.084% - 0.132%</text><text transform="translate(125,999.38) scale(1,1.02)" font-size="34.7">0.132% - 0.184%</text><text transform="translate(125,1041.37) scale(1,1.02)" font-size="34.7">0.184% - 0.258%</text><text transform="translate(125,1083.36) scale(1,1.02)" font-size="34.7">0.258% - 0.319%</text><text transform="translate(125,1125.35) scale(1,1.02)" font-size="34.7">0.319% - 0.369%</text><text transform="translate(125,1167.34) scale(1,1.02)" font-size="34.7">0.369% - 0.485%</text><text transform="translate(125,1209.33) scale(1,1.02)" font-size="34.7">0.485% - 0.595%</text><text transform="translate(125,1251.32) scale(1,1.02)" font-size="34.7">0.595% - 0.685%</text><text transform="translate(125,1293.31) scale(1,1.02)" font-size="34.7">0.685% - 0.847%</text><text transform="translate(125,1335.30) scale(1,1.02)" font-size="34.7">0.847% - 0.969%</text><text transform="translate(125,1377.29) scale(1,1.02)" font-size="34.7">0.969% - 1.449%</text><text transform="translate(125,1419.28) scale(1,1.02)" font-size="34.7">1.449% - 1.653%</text>
<text transform="translate(62,133.2) scale(1,1.04)" font-size="65.3" stroke="#000" stroke-width="0.8">O-F2444_</text>
<text x="1260" y="1421.2" font-size="34">O1a</text>
<path d="M70.77,830.27 L89.13,830.27 M91.67,823.30 L106.87,823.30 M91.67,833.43 L105.60,833.43 M91.67,843.57 L105.60,843.57 M91.67,854.97 L105.60,854.97 M115.73,826.47 L130.93,826.47 M132.20,830.90 L153.10,830.90 M176.53,829.00 L195.53,829.00 M165.13,840.40 L190.46,840.40 M165.13,854.33 L190.46,854.33 M207.56,835.33 L222.13,835.33" stroke="#000" stroke-width="1.3" fill="none" stroke-linecap="butt" stroke-linejoin="miter"/>
<path d="M80.27,819.50 L80.27,858.13 M80.27,835.33 L70.13,851.80 M82.17,835.97 L87.23,841.67 M91.67,822.67 L91.67,858.13 M105.60,822.67 L105.60,856.87 M130.93,826.47 L113.83,854.97 M117.00,830.90 L130.30,853.07 M144.23,820.77 L144.23,856.23 L137.90,853.70 M136.00,835.97 L139.16,842.30 M176.53,819.50 L176.53,839.77 M165.13,839.77 L165.13,858.77 M190.46,839.77 L190.46,857.50 M207.56,820.77 L207.56,855.60 M207.56,855.60 L220.86,849.90 M224.66,820.77 L224.66,854.33 L227.19,855.60 L239.86,855.60 L239.23,846.73 M224.66,837.87 L239.23,829.00" stroke="#000" stroke-width="2.2" fill="none" stroke-linecap="butt" stroke-linejoin="miter"/>
<path d="M1199.27,1398.07 L1211.80,1398.07 M1199.27,1407.13 L1210.73,1407.13 M1199.27,1415.40 L1211.80,1415.40 M1221.40,1397.53 L1237.40,1397.53 M1217.13,1403.40 L1248.60,1403.40 M1226.47,1409.27 L1242.47,1409.27 M1226.47,1414.33 L1241.13,1414.33 M1226.47,1420.47 L1241.13,1420.47" stroke="#000" stroke-width="1.2" fill="none" stroke-linecap="butt" stroke-linejoin="miter"/>
<path d="M1190.47,1392.47 L1180.87,1409.53 M1187.53,1402.07 L1187.00,1424.47 M1199.00,1391.93 L1190.47,1406.33 M1199.27,1398.33 L1199.27,1424.47 M1231.00,1392.47 L1231.00,1403.13 M1243.80,1394.07 L1216.60,1415.40 M1226.47,1408.47 L1226.47,1423.40 M1241.13,1408.47 L1241.13,1422.87" stroke="#000" stroke-width="1.9" fill="none" stroke-linecap="butt" stroke-linejoin="miter"/>
<path d="M1333.80,1398.93 L1346.27,1398.93 M1349.20,1394.53 L1357.27,1394.53 M1349.20,1402.60 L1357.27,1402.60 M1349.20,1410.67 L1357.27,1410.67 M1336.00,1412.13 L1345.53,1412.13 M1373.40,1394.53 L1394.67,1394.53 M1378.53,1398.93 L1392.47,1398.93 M1378.53,1404.80 L1392.47,1404.80 M1378.53,1410.67 L1392.47,1410.67 M1400.54,1395.27 L1413.00,1395.27 M1399.80,1401.13 L1414.47,1401.13 M1400.54,1407.00 L1413.00,1407.00 M1404.20,1412.87 L1413.00,1412.87 M1404.20,1423.13 L1413.00,1423.13 M1415.94,1400.40 L1430.60,1400.40 M1415.94,1406.27 L1429.14,1406.27 M1415.94,1412.87 L1430.60,1412.87" stroke="#000" stroke-width="1.2" fill="none" stroke-linecap="butt" stroke-linejoin="miter"/>
<path d="M1329.40,1393.43 L1333.07,1396.73 M1326.47,1401.87 L1329.40,1405.53 M1326.83,1414.33 L1330.13,1415.07 L1330.87,1422.40 M1334.53,1394.53 L1336.73,1397.47 M1344.07,1393.07 L1342.60,1398.20 M1336.00,1403.33 L1336.00,1412.13 M1345.53,1403.33 L1345.53,1412.13 M1340.40,1398.93 L1340.40,1412.13 L1332.33,1423.87 M1349.20,1394.53 L1349.20,1414.33 L1342.60,1424.60 M1357.27,1394.53 L1357.27,1421.67 L1354.33,1423.13 M1365.33,1393.43 L1369.73,1396.73 M1362.40,1401.87 L1366.07,1405.53 M1362.77,1414.33 L1366.80,1415.07 L1368.27,1422.40 M1373.40,1394.53 L1372.67,1407.00 L1367.53,1423.13 M1383.67,1396.00 L1382.20,1398.93 M1378.53,1398.93 L1378.53,1410.67 M1392.47,1398.93 L1392.47,1410.67 M1385.87,1410.67 L1385.87,1423.13 L1382.93,1421.67 M1382.20,1414.33 L1376.33,1420.20 M1389.54,1414.33 L1393.94,1420.93 M1412.27,1395.27 L1412.27,1407.00 M1406.40,1395.27 L1405.67,1409.20 L1398.34,1418.73 M1404.20,1412.87 L1404.20,1423.13 M1413.00,1412.87 L1413.00,1423.13 M1416.67,1393.07 L1418.87,1396.73 M1426.94,1392.33 L1424.00,1397.47 M1422.54,1398.20 L1422.54,1424.60" stroke="#000" stroke-width="1.9" fill="none" stroke-linecap="butt" stroke-linejoin="miter"/>
<rect x="1254" y="1401" width="3.5" height="3.5" fill="#000"/><rect x="1254" y="1417" width="3.5" height="3.5" fill="#000"/>
</svg>
</body></html>
